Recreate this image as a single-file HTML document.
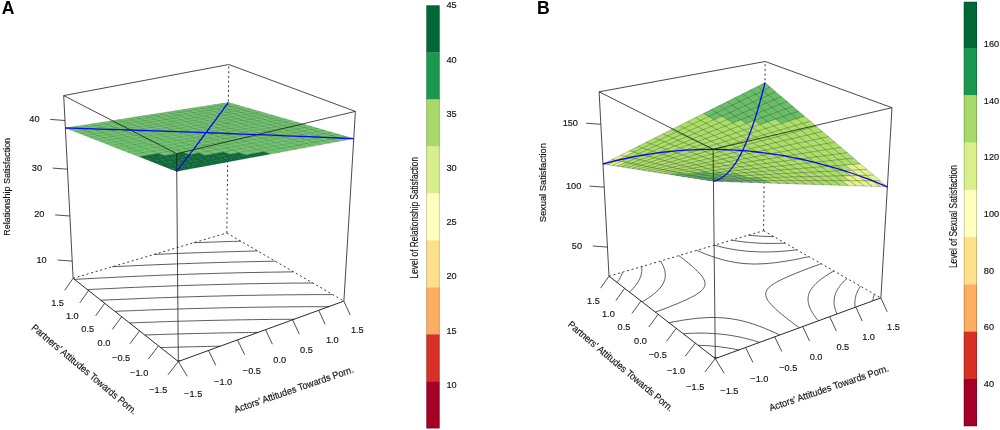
<!DOCTYPE html>
<html><head><meta charset="utf-8"><title>Response surfaces</title><style>
html,body{margin:0;padding:0;background:#fff;}
svg{display:block;font-family:"Liberation Sans", sans-serif;will-change:transform;}
.bx{stroke:#1c1c1c;stroke-width:0.8;fill:none}
.ax{stroke:#111;stroke-width:0.9;fill:none}
.dt{stroke:#3a3a3a;stroke-width:1.0;stroke-dasharray:2 2.7;fill:none}
.ct{stroke:#222;stroke-width:0.75;fill:none}
.tk{stroke:#222;stroke-width:0.8;fill:none}
.sf polygon{stroke-width:0.4;stroke-linejoin:round}
.bl{stroke:#0808f2;stroke-width:1.3;fill:none;stroke-linejoin:round}
.tl{font-size:9.8px;fill:#111;stroke:#111;stroke-width:0.15px;text-anchor:middle}
.cl{font-size:9.8px;fill:#111;stroke:#111;stroke-width:0.15px;text-anchor:start}
.at{font-size:9.8px;fill:#111;stroke:#111;stroke-width:0.15px}
.kt{font-size:10.5px;fill:#111;stroke:#111;stroke-width:0.15px}
.pl{font-size:17.6px;font-weight:bold;fill:#000}
</style></head><body>
<svg width="1000" height="430" viewBox="0 0 1000 430">
<rect width="1000" height="430" fill="#fff"/>
<text x="1.7" y="14.0" class="pl">A</text>
<text x="536.9" y="14.0" class="pl">B</text>
<line x1="63.7" y1="95.6" x2="228.8" y2="64.5" class="bx"/>
<line x1="228.8" y1="64.5" x2="355.4" y2="111.4" class="bx"/>
<line x1="73.1" y1="278.3" x2="63.7" y2="95.6" class="bx"/>
<line x1="343.9" y1="301.1" x2="355.4" y2="111.4" class="bx"/>
<line x1="226.8" y1="233.0" x2="228.8" y2="64.5" class="dt"/>
<line x1="73.1" y1="278.3" x2="226.8" y2="233.0" class="dt"/>
<line x1="226.8" y1="233.0" x2="343.9" y2="301.1" class="dt"/>
<polyline class="ct" points="240.9,241.2 239.2,241.2 237.3,241.3 234.5,241.4 232.4,241.4 230.7,241.5 228.7,241.5 225.9,241.6 223.9,241.7 222.2,241.7 220.1,241.8 217.2,241.9 215.4,242.0 213.7,242.0 211.4,242.1 208.6,242.2 206.9,242.3 205.2,242.3 202.6,242.4 200.1,242.5 198.4,242.6 196.7,242.6 193.7,242.7 193.7,242.7"/>
<polyline class="ct" points="257.7,251.0 254.9,251.0 252.5,251.1 250.7,251.1 248.9,251.2 246.4,251.3 243.7,251.3 241.9,251.4 240.2,251.4 237.8,251.5 234.9,251.6 233.2,251.6 231.4,251.7 229.1,251.7 226.2,251.8 224.5,251.9 222.7,251.9 220.3,252.0 217.5,252.1 215.8,252.1 214.0,252.2 211.5,252.3 208.8,252.3 207.1,252.4 205.3,252.5 202.6,252.6 200.1,252.6 198.4,252.7 196.6,252.8 193.6,252.9 191.4,252.9 189.7,253.0 187.6,253.1 184.6,253.2 182.8,253.3 181.1,253.3 178.5,253.4 175.9,253.5 174.1,253.6 172.4,253.7 169.4,253.8 167.2,253.9 165.5,254.0 163.2,254.1 160.3,254.2 158.6,254.3 156.9,254.3 153.9,254.5 153.9,254.5"/>
<polyline class="ct" points="275.3,261.2 273.3,261.2 270.5,261.3 268.0,261.3 266.2,261.4 264.4,261.4 261.9,261.4 259.0,261.5 257.2,261.5 255.4,261.6 253.2,261.6 250.4,261.7 248.2,261.7 246.4,261.8 244.6,261.8 241.6,261.9 239.2,262.0 237.4,262.0 235.6,262.0 232.9,262.1 230.3,262.2 228.5,262.2 226.7,262.3 224.0,262.4 221.3,262.4 219.5,262.5 217.8,262.5 215.1,262.6 212.4,262.7 210.6,262.8 208.8,262.8 206.1,262.9 203.5,263.0 201.7,263.0 199.9,263.1 197.1,263.2 194.6,263.3 192.8,263.3 191.0,263.4 188.0,263.5 185.7,263.6 183.9,263.7 181.8,263.7 178.8,263.8 176.8,263.9 175.1,264.0 172.6,264.1 169.8,264.2 168.0,264.3 166.2,264.3 163.2,264.5 160.9,264.5 159.1,264.6 157.0,264.7 153.8,264.8 152.1,264.9 150.3,265.0 147.5,265.1 145.0,265.2 143.2,265.3 141.1,265.4 138.0,265.5 136.2,265.6 134.4,265.7 131.5,265.8 129.1,266.0 127.3,266.0 125.1,266.1 122.0,266.3 120.3,266.4 118.5,266.5 115.3,266.6 113.2,266.7 112.0,266.8"/>
<polyline class="ct" points="293.6,271.8 291.7,271.9 289.6,271.9 286.7,271.9 284.2,272.0 282.4,272.0 280.5,272.0 278.1,272.1 275.2,272.1 273.1,272.1 271.2,272.2 269.4,272.2 266.5,272.2 263.8,272.3 262.0,272.3 260.1,272.4 257.8,272.4 254.9,272.5 252.7,272.5 250.9,272.5 249.0,272.6 246.1,272.6 243.5,272.7 241.7,272.7 239.8,272.8 237.2,272.8 234.3,272.9 232.5,273.0 230.6,273.0 228.3,273.1 225.3,273.1 223.3,273.2 221.5,273.2 219.3,273.3 216.2,273.4 214.2,273.4 212.3,273.5 210.2,273.6 207.1,273.7 205.0,273.7 203.2,273.8 201.0,273.8 198.0,273.9 195.9,274.0 194.1,274.1 191.8,274.1 188.7,274.2 186.8,274.3 185.0,274.4 182.5,274.5 179.5,274.6 177.7,274.6 175.9,274.7 173.2,274.8 170.4,274.9 168.6,275.0 166.8,275.0 163.7,275.2 161.3,275.2 159.5,275.3 157.4,275.4 154.2,275.5 152.3,275.6 150.5,275.7 147.8,275.8 145.0,275.9 143.2,276.0 141.4,276.1 138.2,276.2 136.0,276.3 134.2,276.4 131.7,276.5 128.8,276.6 126.9,276.7 125.1,276.8 121.9,277.0 119.7,277.1 117.9,277.1 115.3,277.3 112.5,277.4 110.7,277.5 108.7,277.6 105.3,277.8 103.5,277.9 101.6,277.9 98.7,278.1 96.2,278.2 94.4,278.3 91.9,278.4 89.0,278.6 87.2,278.7 85.2,278.8 81.8,279.0 80.0,279.1 78.2,279.2 74.9,279.4 74.6,279.4"/>
<polyline class="ct" points="312.7,283.0 310.7,283.0 308.8,283.0 306.6,283.0 303.7,283.0 301.1,283.1 299.2,283.1 297.3,283.1 295.1,283.1 292.2,283.1 289.6,283.2 287.7,283.2 285.8,283.2 283.5,283.2 280.6,283.3 278.2,283.3 276.3,283.3 274.4,283.4 271.8,283.4 268.8,283.4 266.8,283.5 264.9,283.5 263.0,283.5 260.0,283.6 257.3,283.6 255.4,283.7 253.5,283.7 251.1,283.7 248.1,283.8 245.9,283.8 244.0,283.9 242.1,283.9 239.1,284.0 236.5,284.1 234.6,284.1 232.7,284.1 230.0,284.2 227.1,284.3 225.2,284.3 223.3,284.4 220.9,284.4 217.9,284.5 215.8,284.6 213.9,284.6 211.7,284.7 208.6,284.8 206.4,284.8 204.6,284.9 202.5,284.9 199.4,285.0 197.1,285.1 195.2,285.2 193.1,285.2 190.0,285.3 187.7,285.4 185.9,285.4 183.7,285.5 180.6,285.6 178.4,285.7 176.5,285.8 174.3,285.8 171.1,286.0 169.1,286.0 167.2,286.1 164.7,286.2 161.7,286.3 159.8,286.4 157.9,286.4 155.1,286.6 152.4,286.7 150.5,286.7 148.6,286.8 145.4,286.9 143.1,287.0 141.2,287.1 138.8,287.2 135.6,287.3 133.8,287.4 131.9,287.5 129.0,287.6 126.4,287.7 124.5,287.8 122.4,287.9 119.1,288.1 117.1,288.2 115.3,288.3 112.4,288.4 109.7,288.5 107.8,288.6 105.7,288.7 102.3,288.9 100.4,289.0 98.6,289.1 95.5,289.2 93.0,289.3 91.2,289.4 88.7,289.6 87.5,289.6"/>
<polyline class="ct" points="332.6,294.6 330.2,294.6 327.4,294.6 324.7,294.6 322.7,294.6 320.7,294.6 318.7,294.6 315.8,294.6 312.9,294.6 310.8,294.6 308.9,294.7 306.9,294.7 304.2,294.7 301.2,294.7 299.0,294.7 297.0,294.7 295.1,294.8 292.4,294.8 289.5,294.8 287.2,294.8 285.3,294.8 283.3,294.9 280.6,294.9 277.6,294.9 275.5,295.0 273.5,295.0 271.6,295.0 268.7,295.0 265.7,295.1 263.8,295.1 261.8,295.1 259.7,295.2 256.7,295.2 254.1,295.3 252.1,295.3 250.2,295.3 247.6,295.4 244.5,295.4 242.4,295.5 240.5,295.5 238.4,295.6 235.4,295.6 232.8,295.7 230.8,295.7 228.9,295.8 226.1,295.8 223.1,295.9 221.2,295.9 219.3,296.0 216.8,296.1 213.7,296.1 211.6,296.2 209.7,296.2 207.5,296.3 204.4,296.4 202.0,296.4 200.1,296.5 198.1,296.6 194.9,296.6 192.4,296.7 190.5,296.8 188.6,296.8 185.4,296.9 182.8,297.0 180.9,297.1 179.0,297.1 175.8,297.2 173.3,297.3 171.3,297.4 169.4,297.5 166.1,297.6 163.7,297.7 161.8,297.7 159.6,297.8 156.4,297.9 154.2,298.0 152.3,298.1 149.8,298.2 146.6,298.3 144.7,298.4 142.7,298.4 140.0,298.6 137.0,298.7 135.1,298.8 133.2,298.8 130.0,299.0 127.5,299.1 125.6,299.2 123.3,299.2 120.0,299.4 118.0,299.5 116.1,299.6 113.2,299.7 110.4,299.8 108.5,299.9 106.4,300.0 103.0,300.2 100.9,300.3 100.9,300.3"/>
<polyline class="ct" points="328.7,306.7 325.7,306.7 322.8,306.7 320.8,306.7 318.8,306.7 316.8,306.7 313.9,306.7 311.0,306.7 308.7,306.7 306.6,306.7 304.6,306.7 302.1,306.7 299.1,306.8 296.5,306.8 294.5,306.8 292.5,306.8 290.1,306.8 287.1,306.9 284.5,306.9 282.5,306.9 280.5,306.9 278.0,306.9 275.0,307.0 272.4,307.0 270.4,307.0 268.4,307.0 265.9,307.1 262.8,307.1 260.5,307.2 258.5,307.2 256.5,307.2 253.6,307.3 250.6,307.3 248.5,307.3 246.5,307.4 244.4,307.4 241.3,307.5 238.6,307.5 236.6,307.6 234.6,307.6 231.9,307.6 228.8,307.7 226.7,307.7 224.7,307.8 222.6,307.8 219.4,307.9 216.8,308.0 214.8,308.0 212.9,308.1 209.9,308.1 206.9,308.2 205.0,308.3 203.0,308.3 200.4,308.4 197.2,308.5 195.1,308.5 193.2,308.6 190.8,308.6 187.5,308.7 185.3,308.8 183.3,308.9 181.1,308.9 177.8,309.0 175.5,309.1 173.5,309.2 171.3,309.2 168.0,309.3 165.7,309.4 163.8,309.5 161.5,309.6 158.2,309.7 155.9,309.8 154.0,309.8 151.5,309.9 148.2,310.0 146.2,310.1 144.2,310.2 141.6,310.3 138.4,310.4 136.4,310.5 134.4,310.6 131.5,310.7 128.6,310.8 126.7,310.9 124.7,310.9 121.3,311.1 118.9,311.2 116.9,311.3 115.0,311.4"/>
<polyline class="ct" points="294.2,319.2 291.6,319.3 289.6,319.3 287.5,319.3 285.0,319.3 282.0,319.3 279.3,319.3 277.2,319.4 275.2,319.4 272.7,319.4 269.6,319.4 267.0,319.5 264.9,319.5 262.9,319.5 260.3,319.5 257.2,319.6 254.7,319.6 252.6,319.7 250.6,319.7 247.8,319.7 244.7,319.8 242.4,319.8 240.4,319.8 238.3,319.9 235.2,319.9 232.3,320.0 230.2,320.0 228.2,320.1 225.7,320.1 222.5,320.2 220.1,320.2 218.1,320.3 216.0,320.3 212.8,320.4 210.0,320.4 207.9,320.5 205.9,320.5 203.2,320.6 199.9,320.7 197.8,320.7 195.8,320.8 193.4,320.9 190.2,320.9 187.8,321.0 185.7,321.1 183.6,321.1 180.3,321.2 177.7,321.3 175.7,321.3 173.7,321.4 170.4,321.5 167.6,321.6 165.6,321.7 163.6,321.7 160.4,321.8 157.6,321.9 155.6,322.0 153.6,322.1 150.4,322.2 147.6,322.3 145.6,322.3 143.6,322.4 140.2,322.5 137.6,322.6 135.6,322.7 133.4,322.8 130.0,322.9 129.6,322.9"/>
<polyline class="ct" points="258.1,332.4 254.9,332.4 252.6,332.5 250.5,332.5 248.4,332.5 245.4,332.6 242.2,332.6 240.0,332.6 237.9,332.7 235.7,332.7 232.5,332.8 229.6,332.8 227.5,332.8 225.4,332.9 222.8,332.9 219.5,333.0 217.1,333.0 215.0,333.1 213.0,333.1 209.7,333.2 206.7,333.3 204.7,333.3 202.6,333.4 199.9,333.4 196.6,333.5 194.3,333.5 192.2,333.6 190.0,333.7 186.6,333.7 184.0,333.8 181.9,333.9 179.8,333.9 176.6,334.0 173.6,334.1 171.6,334.2 169.5,334.2 166.5,334.3 163.3,334.4 161.3,334.5 159.2,334.5 156.4,334.6 153.0,334.7 151.0,334.8 148.9,334.9 146.1,334.9 144.8,335.0"/>
<polyline class="ct" points="220.2,346.2 218.1,346.2 215.9,346.3 213.6,346.3 210.3,346.4 207.4,346.4 205.3,346.5 203.1,346.5 200.3,346.6 196.9,346.7 194.6,346.7 192.5,346.8 190.2,346.8 186.8,346.9 184.0,347.0 181.9,347.0 179.8,347.1 176.6,347.2 173.4,347.2 171.3,347.3 169.2,347.4 166.4,347.4 162.9,347.5 160.8,347.6 160.8,347.6"/>
<polyline class="ct" points="180.5,360.7 177.4,360.8 177.4,360.8"/>
<g class="sf" stroke="rgba(0,0,0,0.34)">
<polygon points="226.4,105.1 233.8,104.0 228.4,102.4 221.0,103.6" fill="#6ec76c"/>
<polygon points="218.9,106.3 226.4,105.1 221.0,103.6 213.5,104.7" fill="#6ec76c"/>
<polygon points="231.8,106.7 239.3,105.6 233.8,104.0 226.4,105.1" fill="#6ec76c"/>
<polygon points="211.3,107.5 218.9,106.3 213.5,104.7 205.9,105.9" fill="#6ec76c"/>
<polygon points="237.4,108.4 244.9,107.2 239.3,105.6 231.8,106.7" fill="#6ec76c"/>
<polygon points="224.3,107.9 231.8,106.7 226.4,105.1 218.9,106.3" fill="#6ec76c"/>
<polygon points="203.6,108.7 211.3,107.5 205.9,105.9 198.3,107.1" fill="#6ec76c"/>
<polygon points="243.0,110.0 250.5,108.8 244.9,107.2 237.4,108.4" fill="#6ec76c"/>
<polygon points="216.7,109.2 224.3,107.9 218.9,106.3 211.3,107.5" fill="#6ec76c"/>
<polygon points="229.8,109.6 237.4,108.4 231.8,106.7 224.3,107.9" fill="#6ec76c"/>
<polygon points="195.9,110.0 203.6,108.7 198.3,107.1 190.6,108.3" fill="#6ec76c"/>
<polygon points="248.8,111.7 256.3,110.5 250.5,108.8 243.0,110.0" fill="#6ec76c"/>
<polygon points="209.0,110.4 216.7,109.2 211.3,107.5 203.6,108.7" fill="#6ec76c"/>
<polygon points="222.2,110.8 229.8,109.6 224.3,107.9 216.7,109.2" fill="#6ec76c"/>
<polygon points="235.5,111.2 243.0,110.0 237.4,108.4 229.8,109.6" fill="#6ec76c"/>
<polygon points="188.1,111.2 195.9,110.0 190.6,108.3 182.9,109.5" fill="#6ec76c"/>
<polygon points="254.6,113.4 262.1,112.1 256.3,110.5 248.8,111.7" fill="#6ec76c"/>
<polygon points="201.3,111.6 209.0,110.4 203.6,108.7 195.9,110.0" fill="#6ec76c"/>
<polygon points="214.5,112.0 222.2,110.8 216.7,109.2 209.0,110.4" fill="#6ec76c"/>
<polygon points="227.8,112.5 235.5,111.2 229.8,109.6 222.2,110.8" fill="#6ec76c"/>
<polygon points="241.2,112.9 248.8,111.7 243.0,110.0 235.5,111.2" fill="#6ec76c"/>
<polygon points="180.2,112.4 188.1,111.2 182.9,109.5 175.0,110.8" fill="#6ec76c"/>
<polygon points="260.5,115.1 268.0,113.9 262.1,112.1 254.6,113.4" fill="#6ec76c"/>
<polygon points="193.5,112.9 201.3,111.6 195.9,110.0 188.1,111.2" fill="#6ec76c"/>
<polygon points="206.7,113.3 214.5,112.0 209.0,110.4 201.3,111.6" fill="#6ec76c"/>
<polygon points="220.1,113.7 227.8,112.5 222.2,110.8 214.5,112.0" fill="#6ec76c"/>
<polygon points="233.5,114.2 241.2,112.9 235.5,111.2 227.8,112.5" fill="#6ec76c"/>
<polygon points="246.9,114.6 254.6,113.4 248.8,111.7 241.2,112.9" fill="#6ec76c"/>
<polygon points="172.3,113.7 180.2,112.4 175.0,110.8 167.1,112.0" fill="#6ec76c"/>
<polygon points="198.9,114.5 206.7,113.3 201.3,111.6 193.5,112.9" fill="#6ec76c"/>
<polygon points="212.3,115.0 220.1,113.7 214.5,112.0 206.7,113.3" fill="#6ec76c"/>
<polygon points="225.7,115.4 233.5,114.2 227.8,112.5 220.1,113.7" fill="#6ec76c"/>
<polygon points="239.2,115.9 246.9,114.6 241.2,112.9 233.5,114.2" fill="#6ec76c"/>
<polygon points="266.4,116.9 274.1,115.6 268.0,113.9 260.5,115.1" fill="#6ec76c"/>
<polygon points="185.5,114.1 193.5,112.9 188.1,111.2 180.2,112.4" fill="#6ec76c"/>
<polygon points="252.8,116.4 260.5,115.1 254.6,113.4 246.9,114.6" fill="#6ec76c"/>
<polygon points="164.2,115.0 172.3,113.7 167.1,112.0 159.1,113.3" fill="#6ec76c"/>
<polygon points="204.4,116.3 212.3,115.0 206.7,113.3 198.9,114.5" fill="#6ec76c"/>
<polygon points="217.9,116.7 225.7,115.4 220.1,113.7 212.3,115.0" fill="#6ec76c"/>
<polygon points="231.4,117.2 239.2,115.9 233.5,114.2 225.7,115.4" fill="#6ec76c"/>
<polygon points="272.5,118.6 280.2,117.4 274.1,115.6 266.4,116.9" fill="#6ec76c"/>
<polygon points="190.9,115.8 198.9,114.5 193.5,112.9 185.5,114.1" fill="#6ec76c"/>
<polygon points="245.1,117.6 252.8,116.4 246.9,114.6 239.2,115.9" fill="#6ec76c"/>
<polygon points="177.6,115.4 185.5,114.1 180.2,112.4 172.3,113.7" fill="#6ec76c"/>
<polygon points="258.8,118.1 266.4,116.9 260.5,115.1 252.8,116.4" fill="#6ec76c"/>
<polygon points="156.1,116.2 164.2,115.0 159.1,113.3 151.0,114.6" fill="#6ec76c"/>
<polygon points="210.0,118.0 217.9,116.7 212.3,115.0 204.4,116.3" fill="#6ec76c"/>
<polygon points="223.6,118.5 231.4,117.2 225.7,115.4 217.9,116.7" fill="#6ec76c"/>
<polygon points="278.7,120.4 286.3,119.1 280.2,117.4 272.5,118.6" fill="#6ec76c"/>
<polygon points="196.4,117.5 204.4,116.3 198.9,114.5 190.9,115.8" fill="#6ec76c"/>
<polygon points="237.3,118.9 245.1,117.6 239.2,115.9 231.4,117.2" fill="#6ec76c"/>
<polygon points="169.5,116.7 177.6,115.4 172.3,113.7 164.2,115.0" fill="#6ec76c"/>
<polygon points="182.9,117.1 190.9,115.8 185.5,114.1 177.6,115.4" fill="#6ec76c"/>
<polygon points="251.0,119.4 258.8,118.1 252.8,116.4 245.1,117.6" fill="#6ec76c"/>
<polygon points="264.8,119.9 272.5,118.6 266.4,116.9 258.8,118.1" fill="#6ec76c"/>
<polygon points="215.6,119.8 223.6,118.5 217.9,116.7 210.0,118.0" fill="#6ec76c"/>
<polygon points="147.9,117.5 156.1,116.2 151.0,114.6 142.8,115.8" fill="#6ec76c"/>
<polygon points="202.0,119.3 210.0,118.0 204.4,116.3 196.4,117.5" fill="#6ec76c"/>
<polygon points="229.4,120.2 237.3,118.9 231.4,117.2 223.6,118.5" fill="#6ec76c"/>
<polygon points="284.9,122.3 292.6,120.9 286.3,119.1 278.7,120.4" fill="#6ec76c"/>
<polygon points="161.3,118.0 169.5,116.7 164.2,115.0 156.1,116.2" fill="#6ec76c"/>
<polygon points="174.8,118.4 182.9,117.1 177.6,115.4 169.5,116.7" fill="#6ec76c"/>
<polygon points="188.4,118.8 196.4,117.5 190.9,115.8 182.9,117.1" fill="#6ec76c"/>
<polygon points="243.2,120.7 251.0,119.4 245.1,117.6 237.3,118.9" fill="#6ec76c"/>
<polygon points="257.0,121.2 264.8,119.9 258.8,118.1 251.0,119.4" fill="#6ec76c"/>
<polygon points="270.9,121.7 278.7,120.4 272.5,118.6 264.8,119.9" fill="#6ec76c"/>
<polygon points="139.6,118.9 147.9,117.5 142.8,115.8 134.6,117.1" fill="#6ec76c"/>
<polygon points="207.6,121.1 215.6,119.8 210.0,118.0 202.0,119.3" fill="#6ec76c"/>
<polygon points="221.4,121.6 229.4,120.2 223.6,118.5 215.6,119.8" fill="#6ec76c"/>
<polygon points="291.3,124.1 299.0,122.8 292.6,120.9 284.9,122.3" fill="#6ec76c"/>
<polygon points="166.6,119.7 174.8,118.4 169.5,116.7 161.3,118.0" fill="#6ec76c"/>
<polygon points="180.2,120.2 188.4,118.8 182.9,117.1 174.8,118.4" fill="#6ec76c"/>
<polygon points="193.9,120.6 202.0,119.3 196.4,117.5 188.4,118.8" fill="#6ec76c"/>
<polygon points="235.2,122.0 243.2,120.7 237.3,118.9 229.4,120.2" fill="#6ec76c"/>
<polygon points="249.1,122.5 257.0,121.2 251.0,119.4 243.2,120.7" fill="#6ec76c"/>
<polygon points="263.1,123.1 270.9,121.7 264.8,119.9 257.0,121.2" fill="#6ec76c"/>
<polygon points="153.1,119.3 161.3,118.0 156.1,116.2 147.9,117.5" fill="#6ec76c"/>
<polygon points="277.2,123.6 284.9,122.3 278.7,120.4 270.9,121.7" fill="#6ec76c"/>
<polygon points="131.2,120.2 139.6,118.9 134.6,117.1 126.2,118.4" fill="#6ec76c"/>
<polygon points="297.7,126.0 305.5,124.7 299.0,122.8 291.3,124.1" fill="#6ec76c"/>
<polygon points="172.0,121.5 180.2,120.2 174.8,118.4 166.6,119.7" fill="#6ec76c"/>
<polygon points="185.7,121.9 193.9,120.6 188.4,118.8 180.2,120.2" fill="#6ec76c"/>
<polygon points="199.5,122.4 207.6,121.1 202.0,119.3 193.9,120.6" fill="#6ec76c"/>
<polygon points="213.3,122.9 221.4,121.6 215.6,119.8 207.6,121.1" fill="#6ec76c"/>
<polygon points="227.2,123.4 235.2,122.0 229.4,120.2 221.4,121.6" fill="#6ec76c"/>
<polygon points="241.2,123.9 249.1,122.5 243.2,120.7 235.2,122.0" fill="#6ec76c"/>
<polygon points="255.2,124.4 263.1,123.1 257.0,121.2 249.1,122.5" fill="#6ec76c"/>
<polygon points="144.8,120.6 153.1,119.3 147.9,117.5 139.6,118.9" fill="#6ec76c"/>
<polygon points="158.3,121.0 166.6,119.7 161.3,118.0 153.1,119.3" fill="#6ec76c"/>
<polygon points="269.3,124.9 277.2,123.6 270.9,121.7 263.1,123.1" fill="#6ec76c"/>
<polygon points="283.5,125.5 291.3,124.1 284.9,122.3 277.2,123.6" fill="#6ec76c"/>
<polygon points="122.8,121.5 131.2,120.2 126.2,118.4 117.8,119.8" fill="#6ec76c"/>
<polygon points="177.4,123.3 185.7,121.9 180.2,120.2 172.0,121.5" fill="#6ec76c"/>
<polygon points="191.3,123.8 199.5,122.4 193.9,120.6 185.7,121.9" fill="#6ec76c"/>
<polygon points="233.2,125.2 241.2,123.9 235.2,122.0 227.2,123.4" fill="#6ec76c"/>
<polygon points="247.2,125.7 255.2,124.4 249.1,122.5 241.2,123.9" fill="#6ec76c"/>
<polygon points="304.3,127.9 312.1,126.6 305.5,124.7 297.7,126.0" fill="#6ec76c"/>
<polygon points="136.4,121.9 144.8,120.6 139.6,118.9 131.2,120.2" fill="#6ec76c"/>
<polygon points="150.0,122.4 158.3,121.0 153.1,119.3 144.8,120.6" fill="#6ec76c"/>
<polygon points="163.7,122.8 172.0,121.5 166.6,119.7 158.3,121.0" fill="#6ec76c"/>
<polygon points="205.2,124.2 213.3,122.9 207.6,121.1 199.5,122.4" fill="#6ec76c"/>
<polygon points="219.1,124.7 227.2,123.4 221.4,121.6 213.3,122.9" fill="#6ec76c"/>
<polygon points="261.4,126.3 269.3,124.9 263.1,123.1 255.2,124.4" fill="#6ec76c"/>
<polygon points="275.6,126.8 283.5,125.5 277.2,123.6 269.3,124.9" fill="#6ec76c"/>
<polygon points="289.9,127.4 297.7,126.0 291.3,124.1 283.5,125.5" fill="#6ec76c"/>
<polygon points="114.2,122.9 122.8,121.5 117.8,119.8 109.3,121.1" fill="#6ec76c"/>
<polygon points="183.0,125.1 191.3,123.8 185.7,121.9 177.4,123.3" fill="#6ec76c"/>
<polygon points="239.2,127.1 247.2,125.7 241.2,123.9 233.2,125.2" fill="#6ec76c"/>
<polygon points="311.0,129.9 318.7,128.5 312.1,126.6 304.3,127.9" fill="#6ec76c"/>
<polygon points="141.5,123.7 150.0,122.4 144.8,120.6 136.4,121.9" fill="#6ec76c"/>
<polygon points="155.3,124.2 163.7,122.8 158.3,121.0 150.0,122.4" fill="#6ec76c"/>
<polygon points="169.1,124.6 177.4,123.3 172.0,121.5 163.7,122.8" fill="#6ec76c"/>
<polygon points="196.9,125.6 205.2,124.2 199.5,122.4 191.3,123.8" fill="#6ec76c"/>
<polygon points="225.0,126.6 233.2,125.2 227.2,123.4 219.1,124.7" fill="#6ec76c"/>
<polygon points="253.4,127.6 261.4,126.3 255.2,124.4 247.2,125.7" fill="#6ec76c"/>
<polygon points="267.7,128.2 275.6,126.8 269.3,124.9 261.4,126.3" fill="#6ec76c"/>
<polygon points="282.0,128.7 289.9,127.4 283.5,125.5 275.6,126.8" fill="#6ec76c"/>
<polygon points="127.9,123.3 136.4,121.9 131.2,120.2 122.8,121.5" fill="#6ec76c"/>
<polygon points="210.9,126.1 219.1,124.7 213.3,122.9 205.2,124.2" fill="#6ec76c"/>
<polygon points="296.5,129.3 304.3,127.9 297.7,126.0 289.9,127.4" fill="#6ec76c"/>
<polygon points="105.6,124.2 114.2,122.9 109.3,121.1 100.7,122.5" fill="#6ec76c"/>
<polygon points="317.7,131.8 325.5,130.4 318.7,128.5 311.0,129.9" fill="#6ec76c"/>
<polygon points="146.8,125.6 155.3,124.2 150.0,122.4 141.5,123.7" fill="#6ec76c"/>
<polygon points="160.7,126.0 169.1,124.6 163.7,122.8 155.3,124.2" fill="#6ec76c"/>
<polygon points="174.6,126.5 183.0,125.1 177.4,123.3 169.1,124.6" fill="#6ec76c"/>
<polygon points="188.6,127.0 196.9,125.6 191.3,123.8 183.0,125.1" fill="#6ec76c"/>
<polygon points="231.0,128.5 239.2,127.1 233.2,125.2 225.0,126.6" fill="#6ec76c"/>
<polygon points="245.3,129.0 253.4,127.6 247.2,125.7 239.2,127.1" fill="#6ec76c"/>
<polygon points="259.6,129.6 267.7,128.2 261.4,126.3 253.4,127.6" fill="#6ec76c"/>
<polygon points="274.1,130.1 282.0,128.7 275.6,126.8 267.7,128.2" fill="#6ec76c"/>
<polygon points="119.3,124.7 127.9,123.3 122.8,121.5 114.2,122.9" fill="#6ec76c"/>
<polygon points="133.0,125.1 141.5,123.7 136.4,121.9 127.9,123.3" fill="#6ec76c"/>
<polygon points="202.7,127.5 210.9,126.1 205.2,124.2 196.9,125.6" fill="#6ec76c"/>
<polygon points="216.8,128.0 225.0,126.6 219.1,124.7 210.9,126.1" fill="#6ec76c"/>
<polygon points="288.5,130.7 296.5,129.3 289.9,127.4 282.0,128.7" fill="#6ec76c"/>
<polygon points="303.1,131.2 311.0,129.9 304.3,127.9 296.5,129.3" fill="#6ec76c"/>
<polygon points="96.9,125.6 105.6,124.2 100.7,122.5 92.0,123.8" fill="#6ec76c"/>
<polygon points="152.1,127.4 160.7,126.0 155.3,124.2 146.8,125.6" fill="#6ec76c"/>
<polygon points="166.1,127.9 174.6,126.5 169.1,124.6 160.7,126.0" fill="#6ec76c"/>
<polygon points="251.5,131.0 259.6,129.6 253.4,127.6 245.3,129.0" fill="#6ec76c"/>
<polygon points="266.0,131.5 274.1,130.1 267.7,128.2 259.6,129.6" fill="#6ec76c"/>
<polygon points="324.6,133.8 332.4,132.4 325.5,130.4 317.7,131.8" fill="#6ec76c"/>
<polygon points="124.4,126.5 133.0,125.1 127.9,123.3 119.3,124.7" fill="#6ec76c"/>
<polygon points="138.2,126.9 146.8,125.6 141.5,123.7 133.0,125.1" fill="#6ec76c"/>
<polygon points="180.2,128.4 188.6,127.0 183.0,125.1 174.6,126.5" fill="#6ec76c"/>
<polygon points="194.3,128.9 202.7,127.5 196.9,125.6 188.6,127.0" fill="#6ec76c"/>
<polygon points="208.5,129.4 216.8,128.0 210.9,126.1 202.7,127.5" fill="#6ec76c"/>
<polygon points="222.8,129.9 231.0,128.5 225.0,126.6 216.8,128.0" fill="#6ec76c"/>
<polygon points="237.1,130.4 245.3,129.0 239.2,127.1 231.0,128.5" fill="#6ec76c"/>
<polygon points="280.5,132.1 288.5,130.7 282.0,128.7 274.1,130.1" fill="#6ec76c"/>
<polygon points="295.1,132.7 303.1,131.2 296.5,129.3 288.5,130.7" fill="#6ec76c"/>
<polygon points="110.6,126.0 119.3,124.7 114.2,122.9 105.6,124.2" fill="#6ec76c"/>
<polygon points="309.8,133.2 317.7,131.8 311.0,129.9 303.1,131.2" fill="#6ec76c"/>
<polygon points="88.0,127.0 96.9,125.6 92.0,123.8 83.2,125.2" fill="#6ec76c"/>
<polygon points="157.6,129.3 166.1,127.9 160.7,126.0 152.1,127.4" fill="#6ec76c"/>
<polygon points="257.8,132.9 266.0,131.5 259.6,129.6 251.5,131.0" fill="#6ec76c"/>
<polygon points="331.6,135.9 339.4,134.5 332.4,132.4 324.6,133.8" fill="#6ec76c"/>
<polygon points="129.5,128.3 138.2,126.9 133.0,125.1 124.4,126.5" fill="#6ec76c"/>
<polygon points="143.5,128.8 152.1,127.4 146.8,125.6 138.2,126.9" fill="#6ec76c"/>
<polygon points="171.7,129.8 180.2,128.4 174.6,126.5 166.1,127.9" fill="#6ec76c"/>
<polygon points="200.1,130.8 208.5,129.4 202.7,127.5 194.3,128.9" fill="#6ec76c"/>
<polygon points="214.4,131.3 222.8,129.9 216.8,128.0 208.5,129.4" fill="#6ec76c"/>
<polygon points="243.3,132.4 251.5,131.0 245.3,129.0 237.1,130.4" fill="#6ec76c"/>
<polygon points="272.4,133.5 280.5,132.1 274.1,130.1 266.0,131.5" fill="#6ec76c"/>
<polygon points="287.1,134.1 295.1,132.7 288.5,130.7 280.5,132.1" fill="#6ec76c"/>
<polygon points="115.6,127.9 124.4,126.5 119.3,124.7 110.6,126.0" fill="#6ec76c"/>
<polygon points="301.9,134.7 309.8,133.2 303.1,131.2 295.1,132.7" fill="#6ec76c"/>
<polygon points="101.8,127.4 110.6,126.0 105.6,124.2 96.9,125.6" fill="#6ec76c"/>
<polygon points="185.9,130.3 194.3,128.9 188.6,127.0 180.2,128.4" fill="#6ec76c"/>
<polygon points="228.8,131.8 237.1,130.4 231.0,128.5 222.8,129.9" fill="#6ec76c"/>
<polygon points="316.7,135.3 324.6,133.8 317.7,131.8 309.8,133.2" fill="#6ec76c"/>
<polygon points="79.1,128.4 88.0,127.0 83.2,125.2 74.3,126.6" fill="#6ec76c"/>
<polygon points="134.8,130.2 143.5,128.8 138.2,126.9 129.5,128.3" fill="#6ec76c"/>
<polygon points="148.9,130.7 157.6,129.3 152.1,127.4 143.5,128.8" fill="#6ec76c"/>
<polygon points="163.1,131.2 171.7,129.8 166.1,127.9 157.6,129.3" fill="#6ec76c"/>
<polygon points="206.0,132.7 214.4,131.3 208.5,129.4 200.1,130.8" fill="#6ec76c"/>
<polygon points="249.6,134.4 257.8,132.9 251.5,131.0 243.3,132.4" fill="#6ec76c"/>
<polygon points="264.2,134.9 272.4,133.5 266.0,131.5 257.8,132.9" fill="#6ec76c"/>
<polygon points="279.0,135.5 287.1,134.1 280.5,132.1 272.4,133.5" fill="#6ec76c"/>
<polygon points="338.7,138.0 346.5,136.5 339.4,134.5 331.6,135.9" fill="#6ec76c"/>
<polygon points="120.8,129.7 129.5,128.3 124.4,126.5 115.6,127.9" fill="#6ec76c"/>
<polygon points="293.8,136.1 301.9,134.7 295.1,132.7 287.1,134.1" fill="#6ec76c"/>
<polygon points="92.9,128.9 101.8,127.4 96.9,125.6 88.0,127.0" fill="#6ec76c"/>
<polygon points="106.8,129.3 115.6,127.9 110.6,126.0 101.8,127.4" fill="#6ec76c"/>
<polygon points="177.3,131.7 185.9,130.3 180.2,128.4 171.7,129.8" fill="#6ec76c"/>
<polygon points="191.6,132.2 200.1,130.8 194.3,128.9 185.9,130.3" fill="#6ec76c"/>
<polygon points="220.5,133.2 228.8,131.8 222.8,129.9 214.4,131.3" fill="#6ec76c"/>
<polygon points="235.0,133.8 243.3,132.4 237.1,130.4 228.8,131.8" fill="#6ec76c"/>
<polygon points="308.7,136.7 316.7,135.3 309.8,133.2 301.9,134.7" fill="#6ec76c"/>
<polygon points="323.6,137.3 331.6,135.9 324.6,133.8 316.7,135.3" fill="#6ec76c"/>
<polygon points="70.1,129.8 79.1,128.4 74.3,126.6 65.4,128.0" fill="#6ec76c"/>
<polygon points="140.2,132.1 148.9,130.7 143.5,128.8 134.8,130.2" fill="#6ec76c"/>
<polygon points="270.8,137.0 279.0,135.5 272.4,133.5 264.2,134.9" fill="#6ec76c"/>
<polygon points="345.9,140.1 353.8,138.6 346.5,136.5 338.7,138.0" fill="#6ec76c"/>
<polygon points="126.0,131.6 134.8,130.2 129.5,128.3 120.8,129.7" fill="#6ec76c"/>
<polygon points="285.6,137.6 293.8,136.1 287.1,134.1 279.0,135.5" fill="#6ec76c"/>
<polygon points="97.9,130.7 106.8,129.3 101.8,127.4 92.9,128.9" fill="#6ec76c"/>
<polygon points="111.9,131.2 120.8,129.7 115.6,127.9 106.8,129.3" fill="#6ec76c"/>
<polygon points="154.4,132.6 163.1,131.2 157.6,129.3 148.9,130.7" fill="#6ec76c"/>
<polygon points="168.7,133.1 177.3,131.7 171.7,129.8 163.1,131.2" fill="#6ec76c"/>
<polygon points="183.0,133.6 191.6,132.2 185.9,130.3 177.3,131.7" fill="#6ec76c"/>
<polygon points="197.5,134.2 206.0,132.7 200.1,130.8 191.6,132.2" fill="#6ec76c"/>
<polygon points="212.0,134.7 220.5,133.2 214.4,131.3 206.0,132.7" fill="#6ec76c"/>
<polygon points="226.6,135.2 235.0,133.8 228.8,131.8 220.5,133.2" fill="#6ec76c"/>
<polygon points="241.2,135.8 249.6,134.4 243.3,132.4 235.0,133.8" fill="#6ec76c"/>
<polygon points="256.0,136.4 264.2,134.9 257.8,132.9 249.6,134.4" fill="#6ec76c"/>
<polygon points="300.6,138.2 308.7,136.7 301.9,134.7 293.8,136.1" fill="#6ec76c"/>
<polygon points="315.6,138.8 323.6,137.3 316.7,135.3 308.7,136.7" fill="#6ec76c"/>
<polygon points="84.0,130.3 92.9,128.9 88.0,127.0 79.1,128.4" fill="#6ec76c"/>
<polygon points="330.7,139.4 338.7,138.0 331.6,135.9 323.6,137.3" fill="#6ec76c"/>
<polygon points="131.3,133.6 140.2,132.1 134.8,130.2 126.0,131.6" fill="#6ec76c"/>
<polygon points="277.4,139.0 285.6,137.6 279.0,135.5 270.8,137.0" fill="#6ec76c"/>
<polygon points="103.0,132.6 111.9,131.2 106.8,129.3 97.9,130.7" fill="#6ec76c"/>
<polygon points="117.1,133.1 126.0,131.6 120.8,129.7 111.9,131.2" fill="#6ec76c"/>
<polygon points="145.6,134.1 154.4,132.6 148.9,130.7 140.2,132.1" fill="#6ec76c"/>
<polygon points="174.4,135.1 183.0,133.6 177.3,131.7 168.7,133.1" fill="#6ec76c"/>
<polygon points="188.9,135.6 197.5,134.2 191.6,132.2 183.0,133.6" fill="#6ec76c"/>
<polygon points="218.1,136.7 226.6,135.2 220.5,133.2 212.0,134.7" fill="#6ec76c"/>
<polygon points="232.8,137.3 241.2,135.8 235.0,133.8 226.6,135.2" fill="#6ec76c"/>
<polygon points="262.4,138.4 270.8,137.0 264.2,134.9 256.0,136.4" fill="#6ec76c"/>
<polygon points="292.4,139.6 300.6,138.2 293.8,136.1 285.6,137.6" fill="#6ec76c"/>
<polygon points="307.5,140.3 315.6,138.8 308.7,136.7 300.6,138.2" fill="#6ec76c"/>
<polygon points="74.9,131.7 84.0,130.3 79.1,128.4 70.1,129.8" fill="#6ec76c"/>
<polygon points="88.9,132.2 97.9,130.7 92.9,128.9 84.0,130.3" fill="#6ec76c"/>
<polygon points="159.9,134.6 168.7,133.1 163.1,131.2 154.4,132.6" fill="#6ec76c"/>
<polygon points="203.4,136.1 212.0,134.7 206.0,132.7 197.5,134.2" fill="#6ec76c"/>
<polygon points="247.6,137.8 256.0,136.4 249.6,134.4 241.2,135.8" fill="#6ec76c"/>
<polygon points="322.7,140.9 330.7,139.4 323.6,137.3 315.6,138.8" fill="#6ec76c"/>
<polygon points="337.9,141.5 345.9,140.1 338.7,138.0 330.7,139.4" fill="#6ec76c"/>
<polygon points="108.1,134.6 117.1,133.1 111.9,131.2 103.0,132.6" fill="#6ec76c"/>
<polygon points="122.4,135.0 131.3,133.6 126.0,131.6 117.1,133.1" fill="#6ec76c"/>
<polygon points="180.2,137.1 188.9,135.6 183.0,133.6 174.4,135.1" fill="#6ec76c"/>
<polygon points="224.3,138.7 232.8,137.3 226.6,135.2 218.1,136.7" fill="#6ec76c"/>
<polygon points="284.1,141.1 292.4,139.6 285.6,137.6 277.4,139.0" fill="#6ec76c"/>
<polygon points="299.3,141.7 307.5,140.3 300.6,138.2 292.4,139.6" fill="#6ec76c"/>
<polygon points="136.7,135.5 145.6,134.1 140.2,132.1 131.3,133.6" fill="#6ec76c"/>
<polygon points="269.0,140.5 277.4,139.0 270.8,137.0 262.4,138.4" fill="#6ec76c"/>
<polygon points="79.8,133.6 88.9,132.2 84.0,130.3 74.9,131.7" fill="#6ec76c"/>
<polygon points="93.9,134.1 103.0,132.6 97.9,130.7 88.9,132.2" fill="#6ec76c"/>
<polygon points="151.1,136.0 159.9,134.6 154.4,132.6 145.6,134.1" fill="#6ec76c"/>
<polygon points="165.6,136.6 174.4,135.1 168.7,133.1 159.9,134.6" fill="#6ec76c"/>
<polygon points="194.8,137.6 203.4,136.1 197.5,134.2 188.9,135.6" fill="#6ec76c"/>
<polygon points="209.5,138.2 218.1,136.7 212.0,134.7 203.4,136.1" fill="#6ec76c"/>
<polygon points="239.1,139.3 247.6,137.8 241.2,135.8 232.8,137.3" fill="#6ec76c"/>
<polygon points="254.0,139.9 262.4,138.4 256.0,136.4 247.6,137.8" fill="#6ec76c"/>
<polygon points="314.5,142.4 322.7,140.9 315.6,138.8 307.5,140.3" fill="#6ec76c"/>
<polygon points="329.8,143.0 337.9,141.5 330.7,139.4 322.7,140.9" fill="#6ec76c"/>
<polygon points="113.3,136.5 122.4,135.0 117.1,133.1 108.1,134.6" fill="#6ec76c"/>
<polygon points="291.0,143.3 299.3,141.7 292.4,139.6 284.1,141.1" fill="#6ec76c"/>
<polygon points="84.8,135.6 93.9,134.1 88.9,132.2 79.8,133.6" fill="#6ec76c"/>
<polygon points="99.0,136.0 108.1,134.6 103.0,132.6 93.9,134.1" fill="#6ec76c"/>
<polygon points="127.7,137.0 136.7,135.5 131.3,133.6 122.4,135.0" fill="#6ec76c"/>
<polygon points="156.7,138.0 165.6,136.6 159.9,134.6 151.1,136.0" fill="#6ec76c"/>
<polygon points="171.3,138.6 180.2,137.1 174.4,135.1 165.6,136.6" fill="#6ec76c"/>
<polygon points="186.0,139.1 194.8,137.6 188.9,135.6 180.2,137.1" fill="#6ec76c"/>
<polygon points="200.8,139.7 209.5,138.2 203.4,136.1 194.8,137.6" fill="#6ec76c"/>
<polygon points="215.6,140.2 224.3,138.7 218.1,136.7 209.5,138.2" fill="#6ec76c"/>
<polygon points="230.5,140.8 239.1,139.3 232.8,137.3 224.3,138.7" fill="#6ec76c"/>
<polygon points="245.5,141.4 254.0,139.9 247.6,137.8 239.1,139.3" fill="#6ec76c"/>
<polygon points="275.7,142.6 284.1,141.1 277.4,139.0 269.0,140.5" fill="#6ec76c"/>
<polygon points="306.3,143.9 314.5,142.4 307.5,140.3 299.3,141.7" fill="#6ec76c"/>
<polygon points="321.6,144.6 329.8,143.0 322.7,140.9 314.5,142.4" fill="#6ec76c"/>
<polygon points="142.2,137.5 151.1,136.0 145.6,134.1 136.7,135.5" fill="#6ec76c"/>
<polygon points="260.6,142.0 269.0,140.5 262.4,138.4 254.0,139.9" fill="#6ec76c"/>
<polygon points="89.8,137.5 99.0,136.0 93.9,134.1 84.8,135.6" fill="#6ec76c"/>
<polygon points="104.2,138.0 113.3,136.5 108.1,134.6 99.0,136.0" fill="#6ec76c"/>
<polygon points="118.6,138.5 127.7,137.0 122.4,135.0 113.3,136.5" fill="#6ec76c"/>
<polygon points="162.4,140.1 171.3,138.6 165.6,136.6 156.7,138.0" fill="#6ec76c"/>
<polygon points="192.0,141.2 200.8,139.7 194.8,137.6 186.0,139.1" fill="#6ec76c"/>
<polygon points="206.9,141.7 215.6,140.2 209.5,138.2 200.8,139.7" fill="#6ec76c"/>
<polygon points="236.9,142.9 245.5,141.4 239.1,139.3 230.5,140.8" fill="#6ec76c"/>
<polygon points="282.6,144.8 291.0,143.3 284.1,141.1 275.7,142.6" fill="#6ec76c"/>
<polygon points="297.9,145.4 306.3,143.9 299.3,141.7 291.0,143.3" fill="#6ec76c"/>
<polygon points="313.4,146.1 321.6,144.6 314.5,142.4 306.3,143.9" fill="#6ec76c"/>
<polygon points="147.8,139.5 156.7,138.0 151.1,136.0 142.2,137.5" fill="#6ec76c"/>
<polygon points="252.1,143.5 260.6,142.0 254.0,139.9 245.5,141.4" fill="#6ec76c"/>
<polygon points="133.2,139.0 142.2,137.5 136.7,135.5 127.7,137.0" fill="#6ec76c"/>
<polygon points="177.2,140.6 186.0,139.1 180.2,137.1 171.3,138.6" fill="#6ec76c"/>
<polygon points="221.9,142.3 230.5,140.8 224.3,138.7 215.6,140.2" fill="#6ec76c"/>
<polygon points="267.3,144.1 275.7,142.6 269.0,140.5 260.6,142.0" fill="#6ec76c"/>
<polygon points="94.9,139.5 104.2,138.0 99.0,136.0 89.8,137.5" fill="#6ec76c"/>
<polygon points="198.1,143.3 206.9,141.7 200.8,139.7 192.0,141.2" fill="#6ec76c"/>
<polygon points="305.0,147.6 313.4,146.1 306.3,143.9 297.9,145.4" fill="#6ec76c"/>
<polygon points="153.4,141.6 162.4,140.1 156.7,138.0 147.8,139.5" fill="#6ec76c"/>
<polygon points="243.4,145.1 252.1,143.5 245.5,141.4 236.9,142.9" fill="#6ec76c"/>
<polygon points="109.4,140.0 118.6,138.5 113.3,136.5 104.2,138.0" fill="#6ec76c"/>
<polygon points="124.0,140.5 133.2,139.0 127.7,137.0 118.6,138.5" fill="#6ec76c"/>
<polygon points="138.7,141.1 147.8,139.5 142.2,137.5 133.2,139.0" fill="#6ec76c"/>
<polygon points="168.2,142.1 177.2,140.6 171.3,138.6 162.4,140.1" fill="#6ec76c"/>
<polygon points="183.1,142.7 192.0,141.2 186.0,139.1 177.2,140.6" fill="#6ec76c"/>
<polygon points="213.1,143.9 221.9,142.3 215.6,140.2 206.9,141.7" fill="#6ec76c"/>
<polygon points="228.2,144.5 236.9,142.9 230.5,140.8 221.9,142.3" fill="#6ec76c"/>
<polygon points="258.7,145.7 267.3,144.1 260.6,142.0 252.1,143.5" fill="#6ec76c"/>
<polygon points="274.1,146.3 282.6,144.8 275.7,142.6 267.3,144.1" fill="#6ec76c"/>
<polygon points="289.5,147.0 297.9,145.4 291.0,143.3 282.6,144.8" fill="#6ec76c"/>
<polygon points="100.2,141.6 109.4,140.0 104.2,138.0 94.9,139.5" fill="#6ec76c"/>
<polygon points="129.5,142.6 138.7,141.1 133.2,139.0 124.0,140.5" fill="#6ec76c"/>
<polygon points="144.3,143.1 153.4,141.6 147.8,139.5 138.7,141.1" fill="#6ec76c"/>
<polygon points="174.1,144.3 183.1,142.7 177.2,140.6 168.2,142.1" fill="#6ec76c"/>
<polygon points="189.1,144.8 198.1,143.3 192.0,141.2 183.1,142.7" fill="#6ec76c"/>
<polygon points="204.3,145.4 213.1,143.9 206.9,141.7 198.1,143.3" fill="#6ec76c"/>
<polygon points="219.4,146.0 228.2,144.5 221.9,142.3 213.1,143.9" fill="#6ec76c"/>
<polygon points="250.0,147.2 258.7,145.7 252.1,143.5 243.4,145.1" fill="#6ec76c"/>
<polygon points="265.5,147.9 274.1,146.3 267.3,144.1 258.7,145.7" fill="#6ec76c"/>
<polygon points="296.5,149.2 305.0,147.6 297.9,145.4 289.5,147.0" fill="#6ec76c"/>
<polygon points="114.8,142.1 124.0,140.5 118.6,138.5 109.4,140.0" fill="#6ec76c"/>
<polygon points="159.2,143.7 168.2,142.1 162.4,140.1 153.4,141.6" fill="#6ec76c"/>
<polygon points="234.7,146.6 243.4,145.1 236.9,142.9 228.2,144.5" fill="#6ec76c"/>
<polygon points="281.0,148.5 289.5,147.0 282.6,144.8 274.1,146.3" fill="#6ec76c"/>
<polygon points="135.1,144.7 144.3,143.1 138.7,141.1 129.5,142.6" fill="#6ec76c"/>
<polygon points="180.1,146.4 189.1,144.8 183.1,142.7 174.1,144.3" fill="#6ec76c"/>
<polygon points="210.5,147.6 219.4,146.0 213.1,143.9 204.3,145.4" fill="#6ec76c"/>
<polygon points="256.8,149.5 265.5,147.9 258.7,145.7 250.0,147.2" fill="#6ec76c"/>
<polygon points="105.5,143.6 114.8,142.1 109.4,140.0 100.2,141.6" fill="#6ec76c"/>
<polygon points="120.2,144.2 129.5,142.6 124.0,140.5 114.8,142.1" fill="#6ec76c"/>
<polygon points="150.0,145.2 159.2,143.7 153.4,141.6 144.3,143.1" fill="#6ec76c"/>
<polygon points="165.0,145.8 174.1,144.3 168.2,142.1 159.2,143.7" fill="#6ec76c"/>
<polygon points="195.3,147.0 204.3,145.4 198.1,143.3 189.1,144.8" fill="#6ec76c"/>
<polygon points="225.9,148.2 234.7,146.6 228.2,144.5 219.4,146.0" fill="#6ec76c"/>
<polygon points="241.3,148.8 250.0,147.2 243.4,145.1 234.7,146.6" fill="#6ec76c"/>
<polygon points="272.3,150.1 281.0,148.5 274.1,146.3 265.5,147.9" fill="#6ec76c"/>
<polygon points="288.0,150.8 296.5,149.2 289.5,147.0 281.0,148.5" fill="#6ec76c"/>
<polygon points="110.8,145.7 120.2,144.2 114.8,142.1 105.5,143.6" fill="#6ec76c"/>
<polygon points="125.8,146.3 135.1,144.7 129.5,142.6 120.2,144.2" fill="#6ec76c"/>
<polygon points="140.8,146.8 150.0,145.2 144.3,143.1 135.1,144.7" fill="#6ec76c"/>
<polygon points="155.8,147.4 165.0,145.8 159.2,143.7 150.0,145.2" fill="#6ec76c"/>
<polygon points="171.0,148.0 180.1,146.4 174.1,144.3 165.0,145.8" fill="#6ec76c"/>
<polygon points="186.2,148.6 195.3,147.0 189.1,144.8 180.1,146.4" fill="#6ec76c"/>
<polygon points="201.5,149.2 210.5,147.6 204.3,145.4 195.3,147.0" fill="#6ec76c"/>
<polygon points="216.9,149.8 225.9,148.2 219.4,146.0 210.5,147.6" fill="#6ec76c"/>
<polygon points="232.4,150.4 241.3,148.8 234.7,146.6 225.9,148.2" fill="#6ec76c"/>
<polygon points="248.0,151.1 256.8,149.5 250.0,147.2 241.3,148.8" fill="#6ec76c"/>
<polygon points="263.6,151.7 272.3,150.1 265.5,147.9 256.8,149.5" fill="#6ec76c"/>
<polygon points="279.3,152.4 288.0,150.8 281.0,148.5 272.3,150.1" fill="#6ec76c"/>
<polygon points="116.3,147.9 125.8,146.3 120.2,144.2 110.8,145.7" fill="#6ec76c"/>
<polygon points="146.5,149.0 155.8,147.4 150.0,145.2 140.8,146.8" fill="#6ec76c"/>
<polygon points="161.7,149.6 171.0,148.0 165.0,145.8 155.8,147.4" fill="#6ec76c"/>
<polygon points="177.0,150.2 186.2,148.6 180.1,146.4 171.0,148.0" fill="#6ec76c"/>
<polygon points="192.4,150.8 201.5,149.2 195.3,147.0 186.2,148.6" fill="#6ec76c"/>
<polygon points="207.9,151.4 216.9,149.8 210.5,147.6 201.5,149.2" fill="#6ec76c"/>
<polygon points="223.4,152.0 232.4,150.4 225.9,148.2 216.9,149.8" fill="#6ec76c"/>
<polygon points="239.0,152.7 248.0,151.1 241.3,148.8 232.4,150.4" fill="#6ec76c"/>
<polygon points="270.5,154.0 279.3,152.4 272.3,150.1 263.6,151.7" fill="#6ec76c"/>
<polygon points="131.4,148.4 140.8,146.8 135.1,144.7 125.8,146.3" fill="#6ec76c"/>
<polygon points="254.8,153.3 263.6,151.7 256.8,149.5 248.0,151.1" fill="#6ec76c"/>
<polygon points="152.4,151.2 161.7,149.6 155.8,147.4 146.5,149.0" fill="#6ec76c"/>
<polygon points="183.2,152.4 192.4,150.8 186.2,148.6 177.0,150.2" fill="#6ec76c"/>
<polygon points="198.7,153.0 207.9,151.4 201.5,149.2 192.4,150.8" fill="#6ec76c"/>
<polygon points="230.0,154.3 239.0,152.7 232.4,150.4 223.4,152.0" fill="#6ec76c"/>
<polygon points="121.9,150.0 131.4,148.4 125.8,146.3 116.3,147.9" fill="#6ec76c"/>
<polygon points="137.1,150.6 146.5,149.0 140.8,146.8 131.4,148.4" fill="#6ec76c"/>
<polygon points="167.7,151.8 177.0,150.2 171.0,148.0 161.7,149.6" fill="#6ec76c"/>
<polygon points="214.3,153.7 223.4,152.0 216.9,149.8 207.9,151.4" fill="#6ec76c"/>
<polygon points="245.8,155.0 254.8,153.3 248.0,151.1 239.0,152.7" fill="#6ec76c"/>
<polygon points="261.7,155.7 270.5,154.0 263.6,151.7 254.8,153.3" fill="#0b6e3b"/>
<polygon points="127.6,152.3 137.1,150.6 131.4,148.4 121.9,150.0" fill="#6ec76c"/>
<polygon points="142.9,152.8 152.4,151.2 146.5,149.0 137.1,150.6" fill="#6ec76c"/>
<polygon points="158.3,153.4 167.7,151.8 161.7,149.6 152.4,151.2" fill="#6ec76c"/>
<polygon points="173.9,154.1 183.2,152.4 177.0,150.2 167.7,151.8" fill="#6ec76c"/>
<polygon points="189.5,154.7 198.7,153.0 192.4,150.8 183.2,152.4" fill="#6ec76c"/>
<polygon points="205.1,155.3 214.3,153.7 207.9,151.4 198.7,153.0" fill="#6ec76c"/>
<polygon points="220.9,156.0 230.0,154.3 223.4,152.0 214.3,153.7" fill="#0b6e3b"/>
<polygon points="236.8,156.6 245.8,155.0 239.0,152.7 230.0,154.3" fill="#0b6e3b"/>
<polygon points="252.7,157.3 261.7,155.7 254.8,153.3 245.8,155.0" fill="#0b6e3b"/>
<polygon points="133.3,154.5 142.9,152.8 137.1,150.6 127.6,152.3" fill="#6ec76c"/>
<polygon points="164.4,155.7 173.9,154.1 167.7,151.8 158.3,153.4" fill="#6ec76c"/>
<polygon points="211.7,157.7 220.9,156.0 214.3,153.7 205.1,155.3" fill="#0b6e3b"/>
<polygon points="243.6,159.0 252.7,157.3 245.8,155.0 236.8,156.6" fill="#0b6e3b"/>
<polygon points="148.8,155.1 158.3,153.4 152.4,151.2 142.9,152.8" fill="#6ec76c"/>
<polygon points="180.1,156.4 189.5,154.7 183.2,152.4 173.9,154.1" fill="#0b6e3b"/>
<polygon points="195.8,157.0 205.1,155.3 198.7,153.0 189.5,154.7" fill="#0b6e3b"/>
<polygon points="227.6,158.3 236.8,156.6 230.0,154.3 220.9,156.0" fill="#0b6e3b"/>
<polygon points="139.2,156.8 148.8,155.1 142.9,152.8 133.3,154.5" fill="#6ec76c"/>
<polygon points="154.9,157.4 164.4,155.7 158.3,153.4 148.8,155.1" fill="#0b6e3b"/>
<polygon points="170.6,158.0 180.1,156.4 173.9,154.1 164.4,155.7" fill="#0b6e3b"/>
<polygon points="186.4,158.7 195.8,157.0 189.5,154.7 180.1,156.4" fill="#0b6e3b"/>
<polygon points="202.3,159.4 211.7,157.7 205.1,155.3 195.8,157.0" fill="#0b6e3b"/>
<polygon points="218.3,160.0 227.6,158.3 220.9,156.0 211.7,157.7" fill="#0b6e3b"/>
<polygon points="234.4,160.7 243.6,159.0 236.8,156.6 227.6,158.3" fill="#0b6e3b"/>
<polygon points="145.2,159.1 154.9,157.4 148.8,155.1 139.2,156.8" fill="#0b6e3b"/>
<polygon points="161.0,159.8 170.6,158.0 164.4,155.7 154.9,157.4" fill="#0b6e3b"/>
<polygon points="176.9,160.4 186.4,158.7 180.1,156.4 170.6,158.0" fill="#0b6e3b"/>
<polygon points="192.9,161.1 202.3,159.4 195.8,157.0 186.4,158.7" fill="#0b6e3b"/>
<polygon points="208.9,161.7 218.3,160.0 211.7,157.7 202.3,159.4" fill="#0b6e3b"/>
<polygon points="225.1,162.4 234.4,160.7 227.6,158.3 218.3,160.0" fill="#0b6e3b"/>
<polygon points="151.3,161.5 161.0,159.8 154.9,157.4 145.2,159.1" fill="#0b6e3b"/>
<polygon points="183.3,162.8 192.9,161.1 186.4,158.7 176.9,160.4" fill="#0b6e3b"/>
<polygon points="215.6,164.2 225.1,162.4 218.3,160.0 208.9,161.7" fill="#0b6e3b"/>
<polygon points="167.2,162.1 176.9,160.4 170.6,158.0 161.0,159.8" fill="#0b6e3b"/>
<polygon points="199.4,163.5 208.9,161.7 202.3,159.4 192.9,161.1" fill="#0b6e3b"/>
<polygon points="157.5,163.9 167.2,162.1 161.0,159.8 151.3,161.5" fill="#0b6e3b"/>
<polygon points="173.6,164.6 183.3,162.8 176.9,160.4 167.2,162.1" fill="#0b6e3b"/>
<polygon points="189.8,165.3 199.4,163.5 192.9,161.1 183.3,162.8" fill="#0b6e3b"/>
<polygon points="206.1,166.0 215.6,164.2 208.9,161.7 199.4,163.5" fill="#0b6e3b"/>
<polygon points="163.8,166.4 173.6,164.6 167.2,162.1 157.5,163.9" fill="#0b6e3b"/>
<polygon points="180.0,167.0 189.8,165.3 183.3,162.8 173.6,164.6" fill="#0b6e3b"/>
<polygon points="196.4,167.7 206.1,166.0 199.4,163.5 189.8,165.3" fill="#0b6e3b"/>
<polygon points="170.2,168.9 180.0,167.0 173.6,164.6 163.8,166.4" fill="#0b6e3b"/>
<polygon points="186.6,169.6 196.4,167.7 189.8,165.3 180.0,167.0" fill="#0b6e3b"/>
<polygon points="176.7,171.4 186.6,169.6 180.0,167.0 170.2,168.9" fill="#0b6e3b"/>
</g>
<polyline class="bl" points="176.7,171.4 178.4,169.2 180.0,167.0 181.7,164.9 183.3,162.8 184.9,160.7 186.4,158.7 187.9,156.7 189.5,154.7 190.9,152.7 192.4,150.8 193.9,148.9 195.3,147.0 196.7,145.1 198.1,143.3 199.4,141.5 200.8,139.7 202.1,137.9 203.4,136.1 204.7,134.4 206.0,132.7 207.3,131.0 208.5,129.4 209.7,127.7 210.9,126.1 212.1,124.5 213.3,122.9 214.5,121.3 215.6,119.8 216.8,118.2 217.9,116.7 219.0,115.2 220.1,113.7 221.2,112.3 222.2,110.8 223.3,109.4 224.3,107.9 225.3,106.5 226.4,105.1 227.4,103.8 228.4,102.4"/>
<polyline class="bl" points="65.4,128.0 72.2,128.2 79.1,128.4 86.0,128.6 92.9,128.9 99.9,129.1 106.8,129.3 113.8,129.5 120.8,129.7 127.8,130.0 134.8,130.2 141.9,130.5 148.9,130.7 156.0,130.9 163.1,131.2 170.2,131.4 177.3,131.7 184.5,131.9 191.6,132.2 198.8,132.4 206.0,132.7 213.2,133.0 220.5,133.2 227.7,133.5 235.0,133.8 242.3,134.1 249.6,134.4 256.9,134.6 264.2,134.9 271.6,135.2 279.0,135.5 286.4,135.8 293.8,136.1 301.2,136.4 308.7,136.7 316.1,137.0 323.6,137.3 331.1,137.6 338.7,138.0 346.2,138.3 353.8,138.6"/>
<line x1="63.7" y1="95.6" x2="176.6" y2="153.7" class="bx"/>
<line x1="176.6" y1="153.7" x2="355.4" y2="111.4" class="bx"/>
<line x1="178.3" y1="361.5" x2="176.6" y2="153.7" class="bx"/>
<line x1="73.1" y1="278.3" x2="178.3" y2="361.5" class="ax"/>
<line x1="178.3" y1="361.5" x2="343.9" y2="301.1" class="ax"/>
<line x1="178.3" y1="361.5" x2="187.3" y2="376.3" class="tk"/>
<text class="tl" transform="translate(193.2,396.6) scale(0.940,1)">−1.5</text>
<line x1="178.3" y1="361.5" x2="167.9" y2="374.9" class="tk"/>
<text class="tl" transform="translate(158.3,392.6) scale(0.940,1)">−1.5</text>
<line x1="208.5" y1="350.5" x2="215.8" y2="365.4" class="tk"/>
<text class="tl" transform="translate(223.1,385.1) scale(0.940,1)">−1.0</text>
<line x1="158.5" y1="345.8" x2="148.4" y2="359.0" class="tk"/>
<text class="tl" transform="translate(139.2,376.4) scale(0.940,1)">−1.0</text>
<line x1="237.5" y1="339.9" x2="244.6" y2="354.6" class="tk"/>
<text class="tl" transform="translate(251.9,373.9) scale(0.940,1)">−0.5</text>
<line x1="139.6" y1="330.9" x2="129.9" y2="343.8" class="tk"/>
<text class="tl" transform="translate(121.1,360.9) scale(0.940,1)">−0.5</text>
<line x1="265.5" y1="329.7" x2="272.4" y2="344.2" class="tk"/>
<text class="tl" transform="translate(279.7,363.1) scale(0.940,1)">0.0</text>
<line x1="121.7" y1="316.7" x2="112.3" y2="329.5" class="tk"/>
<text class="tl" transform="translate(104.0,346.2) scale(0.940,1)">0.0</text>
<line x1="292.6" y1="319.8" x2="299.3" y2="334.1" class="tk"/>
<text class="tl" transform="translate(306.5,352.7) scale(0.940,1)">0.5</text>
<line x1="104.7" y1="303.3" x2="95.7" y2="315.8" class="tk"/>
<text class="tl" transform="translate(87.7,332.3) scale(0.940,1)">0.5</text>
<line x1="318.7" y1="310.3" x2="325.2" y2="324.4" class="tk"/>
<text class="tl" transform="translate(332.3,342.7) scale(0.940,1)">1.0</text>
<line x1="88.6" y1="290.5" x2="79.8" y2="302.8" class="tk"/>
<text class="tl" transform="translate(72.3,318.9) scale(0.940,1)">1.0</text>
<line x1="343.9" y1="301.1" x2="350.2" y2="315.0" class="tk"/>
<text class="tl" transform="translate(357.3,332.9) scale(0.940,1)">1.5</text>
<line x1="73.1" y1="278.3" x2="64.7" y2="290.3" class="tk"/>
<text class="tl" transform="translate(57.6,306.2) scale(0.940,1)">1.5</text>
<line x1="72.2" y1="261.1" x2="57.5" y2="260.0" class="tk"/>
<text class="tl" transform="translate(41.6,262.5) scale(0.940,1)">10</text>
<line x1="69.9" y1="216.0" x2="55.2" y2="214.9" class="tk"/>
<text class="tl" transform="translate(39.3,217.4) scale(0.940,1)">20</text>
<line x1="67.5" y1="169.2" x2="52.8" y2="168.1" class="tk"/>
<text class="tl" transform="translate(36.9,170.6) scale(0.940,1)">30</text>
<line x1="65.0" y1="120.5" x2="50.3" y2="119.4" class="tk"/>
<text class="tl" transform="translate(34.4,121.9) scale(0.940,1)">40</text>
<text class="at" transform="translate(235.5,412.9) rotate(-18.9) scale(0.93,1)">Actors' Attitudes Towards Porn.</text>
<text class="at" transform="translate(30.8,328.7) rotate(40.0) scale(0.93,1)">Partners' Attitudes Towards Porn.</text>
<text class="at" textLength="97.8" lengthAdjust="spacingAndGlyphs" transform="translate(10.3,235.7) rotate(-90.0)">Relationship Satisfaction</text>
<line x1="599.1" y1="91.8" x2="765.2" y2="61.5" class="bx"/>
<line x1="765.2" y1="61.5" x2="892.0" y2="107.7" class="bx"/>
<line x1="609.0" y1="276.2" x2="599.1" y2="91.8" class="bx"/>
<line x1="880.9" y1="297.9" x2="892.0" y2="107.7" class="bx"/>
<line x1="763.6" y1="230.7" x2="765.2" y2="61.5" class="dt"/>
<line x1="609.0" y1="276.2" x2="763.6" y2="230.7" class="dt"/>
<line x1="763.6" y1="230.7" x2="880.9" y2="297.9" class="dt"/>
<polyline class="ct" points="872.8,300.9 873.0,299.8 873.2,298.7 873.4,297.5 873.7,296.4 874.0,295.2 874.3,294.2 874.3,294.2"/>
<polyline class="ct" points="855.1,307.4 855.0,306.3 854.9,305.3 854.9,304.2 854.8,302.9 854.9,301.7 855.0,300.6 855.1,299.5 855.3,298.4 855.5,297.3 855.7,296.3 856.0,295.2 856.3,294.2 856.7,293.3 857.2,292.1 857.7,290.9 858.4,289.6 858.9,288.7 859.4,287.9 859.9,287.0 860.4,286.2"/>
<polyline class="ct" points="622.5,272.2 622.2,273.1 621.9,274.0 621.4,275.2 620.9,276.3 620.4,277.4 619.8,278.4 619.2,279.5 618.6,280.5 617.9,281.5 617.2,282.5 617.2,282.5"/>
<polyline class="ct" points="837.0,314.0 836.6,313.1 835.9,311.5 835.5,310.2 835.2,309.3 835.0,308.3 834.6,306.8 834.4,305.4 834.2,304.4 834.1,303.4 834.1,302.4 834.1,301.3 834.1,300.3 834.2,299.1 834.4,298.0 834.6,296.9 834.9,295.8 835.2,294.8 835.5,293.7 836.0,292.5 836.5,291.3 837.2,290.1 837.7,289.2 838.2,288.3 838.8,287.5 839.6,286.3 840.6,285.0 841.2,284.3 841.9,283.5 843.1,282.2 844.0,281.3 844.7,280.6 846.1,279.2 847.0,278.5 847.0,278.5"/>
<polyline class="ct" points="641.7,266.6 641.8,267.3 641.8,268.7 641.8,269.7 641.8,270.6 641.7,271.5 641.6,272.8 641.3,274.0 641.1,274.9 640.9,275.8 640.6,276.7 640.2,277.6 639.8,278.7 639.3,279.8 638.7,280.8 638.1,281.9 637.5,282.9 636.8,283.9 636.1,284.8 635.3,285.9 634.3,287.0 633.3,288.2 632.1,289.4 631.3,290.3 630.4,291.2 629.4,292.0"/>
<polyline class="ct" points="818.4,320.8 817.2,319.4 816.3,318.3 815.2,316.8 814.4,315.8 813.5,314.4 812.7,313.2 812.1,312.2 811.2,310.5 810.7,309.7 810.1,308.3 809.6,307.0 809.2,306.0 808.9,304.9 808.5,303.4 808.3,302.3 808.1,301.3 808.1,300.3 808.0,299.3 808.1,298.0 808.2,296.8 808.4,295.7 808.7,294.6 809.0,293.6 809.4,292.6 809.8,291.6 810.4,290.6 811.1,289.4 812.0,288.1 812.6,287.2 813.3,286.4 814.1,285.4 815.4,284.1 816.1,283.4 817.0,282.5 818.5,281.3 819.3,280.6 820.9,279.3 821.8,278.6 823.3,277.6 824.5,276.8 826.0,275.7 827.2,275.0 829.1,273.8 830.0,273.2 831.9,272.1 832.9,271.6 833.9,271.0"/>
<polyline class="ct" points="660.5,261.0 661.1,262.0 661.7,263.1 662.3,264.2 662.8,265.1 663.3,266.2 663.7,267.3 664.0,268.1 664.5,269.5 664.7,270.3 665.0,271.5 665.1,272.6 665.2,273.4 665.3,274.5 665.3,275.9 665.2,276.8 665.1,277.7 665.0,278.6 664.7,279.6 664.3,280.8 663.9,281.9 663.4,283.0 662.8,284.0 662.2,285.0 661.6,286.0 660.9,287.0 660.2,287.9 659.2,289.0 658.0,290.3 656.8,291.4 655.9,292.2 655.0,293.0 653.3,294.4 652.1,295.4 651.0,296.1 649.0,297.6 647.8,298.3 646.4,299.3 644.5,300.5 643.3,301.2 642.2,301.9"/>
<polyline class="ct" points="799.3,327.8 797.3,326.3 795.3,324.9 793.3,323.4 791.4,321.9 790.4,321.2 788.5,319.7 786.6,318.3 784.8,316.8 783.0,315.3 781.2,313.9 780.3,313.1 778.6,311.7 776.9,310.2 775.3,308.7 774.5,308.0 773.0,306.5 771.5,304.9 770.9,304.2 769.6,302.6 768.6,301.4 767.8,300.3 767.2,299.1 766.5,297.8 766.2,296.9 765.8,295.6 765.7,294.2 765.8,293.2 766.0,292.2 766.4,291.1 767.0,289.9 767.6,289.0 768.3,288.2 769.2,287.3 770.8,285.9 771.7,285.2 773.5,284.0 774.6,283.3 776.6,282.1 777.7,281.5 779.8,280.4 781.8,279.4 783.1,278.8 785.3,277.8 787.5,276.8 789.1,276.1 791.0,275.3 793.3,274.4 795.6,273.4 797.9,272.5 800.2,271.6 801.4,271.1 803.7,270.2 806.0,269.3 808.4,268.4 810.7,267.6 813.0,266.7 815.3,265.8 817.7,265.0 819.8,264.2 821.2,263.7 821.2,263.7"/>
<polyline class="ct" points="678.9,255.6 680.4,256.8 681.8,257.9 683.3,259.0 684.0,259.6 685.5,260.8 687.0,262.0 688.4,263.1 689.9,264.3 691.3,265.5 692.4,266.5 693.4,267.4 694.8,268.6 696.1,269.9 697.4,271.2 698.1,271.8 699.3,273.1 700.5,274.4 701.1,275.1 702.1,276.5 702.8,277.5 703.5,278.7 704.0,279.7 704.6,281.0 704.8,281.8 705.0,283.0 705.0,284.4 704.9,285.3 704.6,286.3 704.1,287.3 703.5,288.5 702.6,289.6 701.8,290.4 700.9,291.2 699.3,292.5 698.0,293.4 696.7,294.3 694.8,295.5 693.2,296.3 691.3,297.3 688.9,298.5 687.7,299.1 685.2,300.3 682.6,301.4 680.8,302.2 678.7,303.1 676.1,304.2 673.4,305.2 670.7,306.3 669.3,306.9 666.6,307.9 663.8,309.0 661.0,310.0 658.2,311.1 655.4,312.1 655.4,312.1"/>
<polyline class="ct" points="779.7,335.0 777.0,333.7 775.7,333.1 773.0,331.9 770.2,330.7 768.8,330.1 766.0,328.9 764.4,328.2 761.7,327.1 759.5,326.3 757.3,325.5 755.0,324.7 752.7,323.9 751.0,323.4 747.9,322.4 746.2,322.0 743.8,321.3 741.0,320.6 739.1,320.2 737.3,319.8 734.7,319.4 731.9,318.9 729.3,318.5 726.9,318.3 724.6,318.0 722.2,317.8 719.7,317.7 717.4,317.6 715.2,317.5 713.1,317.5 711.0,317.5 707.9,317.6 704.9,317.7 703.0,317.9 700.7,318.0 697.3,318.3 695.4,318.5 692.1,318.9 689.9,319.2 687.1,319.6 684.6,319.9 681.5,320.4 679.4,320.8 675.9,321.4 674.2,321.7 670.8,322.4 669.1,322.7"/>
<polyline class="ct" points="696.8,250.4 698.9,251.3 700.7,252.0 702.2,252.7 704.4,253.6 705.7,254.1 707.9,254.9 710.2,255.8 711.5,256.2 713.9,257.1 715.2,257.5 717.8,258.3 719.2,258.7 721.4,259.4 723.3,259.9 724.8,260.3 727.7,261.0 729.4,261.3 731.0,261.7 733.2,262.1 735.8,262.5 738.0,262.8 739.9,263.1 741.9,263.3 743.9,263.5 746.1,263.7 748.3,263.8 750.7,263.9 753.2,264.0 755.2,264.0 757.1,264.0 758.9,263.9 761.8,263.8 764.2,263.7 765.9,263.6 768.6,263.4 770.9,263.1 772.5,263.0 775.7,262.6 777.3,262.4 780.4,262.0 781.9,261.8 784.9,261.3 786.7,261.0 789.3,260.6 792.2,260.1 793.6,259.8 796.5,259.3 799.3,258.7 800.6,258.4 803.4,257.8 806.1,257.3 807.5,257.0 808.8,256.7"/>
<polyline class="ct" points="759.5,342.4 757.6,341.8 754.5,340.8 752.7,340.3 750.2,339.6 747.4,338.9 745.6,338.4 743.4,337.9 740.3,337.2 738.0,336.7 736.0,336.3 733.9,336.0 731.4,335.5 728.6,335.1 725.9,334.7 723.3,334.4 720.7,334.1 718.3,333.9 715.8,333.7 713.4,333.5 711.1,333.4 708.7,333.3 706.5,333.2 704.2,333.1 702.0,333.1 699.0,333.1 695.7,333.2 693.5,333.2 691.4,333.3 688.8,333.4 685.3,333.7 683.4,333.8 683.4,333.8"/>
<polyline class="ct" points="714.4,245.2 716.8,245.8 718.5,246.3 719.9,246.6 722.8,247.3 724.3,247.7 725.8,248.0 728.4,248.5 730.5,248.9 732.2,249.2 733.9,249.5 736.1,249.9 738.5,250.2 740.9,250.5 742.8,250.7 744.8,251.0 746.8,251.2 748.8,251.3 750.9,251.5 753.1,251.6 755.3,251.7 757.7,251.8 759.8,251.9 761.7,251.9 763.6,252.0 765.4,252.0 767.9,251.9 770.8,251.9 772.6,251.8 774.3,251.7 776.8,251.6 779.4,251.5 781.1,251.3 783.6,251.2 785.9,251.0 787.5,250.8 790.7,250.5 792.2,250.3 795.2,250.0 796.8,249.8 796.8,249.8"/>
<polyline class="ct" points="738.9,350.0 736.8,349.6 734.3,349.1 731.4,348.5 728.5,348.1 726.2,347.7 723.9,347.4 721.6,347.1 719.3,346.8 716.9,346.5 714.4,346.3 711.9,346.1 709.3,345.8 706.7,345.7 704.0,345.5 701.2,345.4 698.3,345.3 698.2,345.3"/>
<polyline class="ct" points="731.6,240.1 733.6,240.5 736.0,240.9 738.3,241.2 740.1,241.4 741.9,241.7 743.7,241.9 745.6,242.1 747.5,242.3 749.6,242.5 751.7,242.7 753.8,242.8 755.9,243.0 757.9,243.1 760.0,243.2 762.3,243.3 764.6,243.4 767.0,243.4 769.4,243.4 771.2,243.4 773.0,243.4 774.8,243.4 777.5,243.4 780.1,243.3 781.8,243.2 783.5,243.2 785.1,243.1"/>
<polyline class="ct" points="717.6,357.7 715.2,357.5 713.6,357.3"/>
<polyline class="ct" points="748.4,235.2 750.3,235.4 752.4,235.6 754.4,235.7 756.5,235.9 758.5,236.0 760.5,236.2 762.6,236.3 764.8,236.4 767.1,236.4 769.4,236.5 771.8,236.6 773.8,236.6 773.8,236.6"/>
<g class="sf" stroke="rgba(0,0,0,0.52)">
<polygon points="762.9,90.8 770.4,87.2 765.0,82.6 757.5,86.4" fill="#68c066"/>
<polygon points="755.4,94.4 762.9,90.8 757.5,86.4 750.0,90.1" fill="#68c066"/>
<polygon points="768.4,95.3 775.9,91.9 770.4,87.2 762.9,90.8" fill="#68c066"/>
<polygon points="747.8,98.0 755.4,94.4 750.0,90.1 742.4,94.0" fill="#68c066"/>
<polygon points="774.0,99.9 781.5,96.7 775.9,91.9 768.4,95.3" fill="#68c066"/>
<polygon points="760.8,98.7 768.4,95.3 762.9,90.8 755.4,94.4" fill="#68c066"/>
<polygon points="740.1,101.7 747.8,98.0 742.4,94.0 734.7,97.8" fill="#68c066"/>
<polygon points="779.6,104.5 787.2,101.5 781.5,96.7 774.0,99.9" fill="#68c066"/>
<polygon points="753.2,102.2 760.8,98.7 755.4,94.4 747.8,98.0" fill="#68c066"/>
<polygon points="766.4,103.1 774.0,99.9 768.4,95.3 760.8,98.7" fill="#68c066"/>
<polygon points="732.3,105.4 740.1,101.7 734.7,97.8 727.0,101.7" fill="#68c066"/>
<polygon points="785.3,109.2 792.9,106.4 787.2,101.5 779.6,104.5" fill="#68c066"/>
<polygon points="745.5,105.6 753.2,102.2 747.8,98.0 740.1,101.7" fill="#68c066"/>
<polygon points="758.7,106.3 766.4,103.1 760.8,98.7 753.2,102.2" fill="#68c066"/>
<polygon points="772.0,107.5 779.6,104.5 774.0,99.9 766.4,103.1" fill="#68c066"/>
<polygon points="724.5,109.1 732.3,105.4 727.0,101.7 719.2,105.6" fill="#68c066"/>
<polygon points="791.1,113.9 798.6,111.3 792.9,106.4 785.3,109.2" fill="#68c066"/>
<polygon points="737.7,109.1 745.5,105.6 740.1,101.7 732.3,105.4" fill="#68c066"/>
<polygon points="751.0,109.6 758.7,106.3 753.2,102.2 745.5,105.6" fill="#68c066"/>
<polygon points="764.3,110.6 772.0,107.5 766.4,103.1 758.7,106.3" fill="#68c066"/>
<polygon points="777.7,112.0 785.3,109.2 779.6,104.5 772.0,107.5" fill="#68c066"/>
<polygon points="716.6,112.9 724.5,109.1 719.2,105.6 711.3,109.6" fill="#68c066"/>
<polygon points="796.9,118.7 804.5,116.2 798.6,111.3 791.1,113.9" fill="#68c066"/>
<polygon points="729.9,112.7 737.7,109.1 732.3,105.4 724.5,109.1" fill="#68c066"/>
<polygon points="743.2,112.9 751.0,109.6 745.5,105.6 737.7,109.1" fill="#68c066"/>
<polygon points="756.6,113.6 764.3,110.6 758.7,106.3 751.0,109.6" fill="#68c066"/>
<polygon points="770.0,114.8 777.7,112.0 772.0,107.5 764.3,110.6" fill="#68c066"/>
<polygon points="783.4,116.5 791.1,113.9 785.3,109.2 777.7,112.0" fill="#68c066"/>
<polygon points="708.7,116.6 716.6,112.9 711.3,109.6 703.4,113.5" fill="#68c066"/>
<polygon points="735.3,116.2 743.2,112.9 737.7,109.1 729.9,112.7" fill="#68c066"/>
<polygon points="748.7,116.7 756.6,113.6 751.0,109.6 743.2,112.9" fill="#68c066"/>
<polygon points="762.2,117.7 770.0,114.8 764.3,110.6 756.6,113.6" fill="#68c066"/>
<polygon points="775.7,119.2 783.4,116.5 777.7,112.0 770.0,114.8" fill="#68c066"/>
<polygon points="802.8,123.5 810.4,121.3 804.5,116.2 796.9,118.7" fill="#abe066"/>
<polygon points="722.0,116.2 729.9,112.7 724.5,109.1 716.6,112.9" fill="#68c066"/>
<polygon points="789.2,121.1 796.9,118.7 791.1,113.9 783.4,116.5" fill="#68c066"/>
<polygon points="700.6,120.5 708.7,116.6 703.4,113.5 695.4,117.5" fill="#abe066"/>
<polygon points="740.8,119.9 748.7,116.7 743.2,112.9 735.3,116.2" fill="#68c066"/>
<polygon points="754.4,120.6 762.2,117.7 756.6,113.6 748.7,116.7" fill="#68c066"/>
<polygon points="767.9,121.9 775.7,119.2 770.0,114.8 762.2,117.7" fill="#68c066"/>
<polygon points="808.8,128.4 816.4,126.4 810.4,121.3 802.8,123.5" fill="#abe066"/>
<polygon points="727.4,119.6 735.3,116.2 729.9,112.7 722.0,116.2" fill="#68c066"/>
<polygon points="781.5,123.6 789.2,121.1 783.4,116.5 775.7,119.2" fill="#68c066"/>
<polygon points="714.0,119.8 722.0,116.2 716.6,112.9 708.7,116.6" fill="#68c066"/>
<polygon points="795.1,125.7 802.8,123.5 796.9,118.7 789.2,121.1" fill="#abe066"/>
<polygon points="692.6,124.3 700.6,120.5 695.4,117.5 687.4,121.6" fill="#abe066"/>
<polygon points="746.4,123.6 754.4,120.6 748.7,116.7 740.8,119.9" fill="#68c066"/>
<polygon points="760.0,124.6 767.9,121.9 762.2,117.7 754.4,120.6" fill="#68c066"/>
<polygon points="814.8,133.4 822.5,131.5 816.4,126.4 808.8,128.4" fill="#abe066"/>
<polygon points="732.9,123.0 740.8,119.9 735.3,116.2 727.4,119.6" fill="#68c066"/>
<polygon points="773.7,126.0 781.5,123.6 775.7,119.2 767.9,121.9" fill="#abe066"/>
<polygon points="705.9,123.4 714.0,119.8 708.7,116.6 700.6,120.5" fill="#abe066"/>
<polygon points="719.4,123.0 727.4,119.6 722.0,116.2 714.0,119.8" fill="#abe066"/>
<polygon points="787.4,128.0 795.1,125.7 789.2,121.1 781.5,123.6" fill="#abe066"/>
<polygon points="801.1,130.4 808.8,128.4 802.8,123.5 795.1,125.7" fill="#abe066"/>
<polygon points="752.1,127.3 760.0,124.6 754.4,120.6 746.4,123.6" fill="#abe066"/>
<polygon points="684.4,128.2 692.6,124.3 687.4,121.6 679.3,125.7" fill="#abe066"/>
<polygon points="738.4,126.5 746.4,123.6 740.8,119.9 732.9,123.0" fill="#abe066"/>
<polygon points="765.8,128.5 773.7,126.0 767.9,121.9 760.0,124.6" fill="#abe066"/>
<polygon points="821.0,138.4 828.6,136.8 822.5,131.5 814.8,133.4" fill="#abe066"/>
<polygon points="697.8,127.1 705.9,123.4 700.6,120.5 692.6,124.3" fill="#abe066"/>
<polygon points="711.3,126.4 719.4,123.0 714.0,119.8 705.9,123.4" fill="#abe066"/>
<polygon points="724.8,126.2 732.9,123.0 727.4,119.6 719.4,123.0" fill="#abe066"/>
<polygon points="779.6,130.3 787.4,128.0 781.5,123.6 773.7,126.0" fill="#abe066"/>
<polygon points="793.3,132.5 801.1,130.4 795.1,125.7 787.4,128.0" fill="#abe066"/>
<polygon points="807.1,135.2 814.8,133.4 808.8,128.4 801.1,130.4" fill="#abe066"/>
<polygon points="676.2,132.1 684.4,128.2 679.3,125.7 671.1,129.8" fill="#abe066"/>
<polygon points="744.1,130.1 752.1,127.3 746.4,123.6 738.4,126.5" fill="#abe066"/>
<polygon points="757.8,131.1 765.8,128.5 760.0,124.6 752.1,127.3" fill="#abe066"/>
<polygon points="827.2,143.5 834.8,142.1 828.6,136.8 821.0,138.4" fill="#abe066"/>
<polygon points="703.1,129.9 711.3,126.4 705.9,123.4 697.8,127.1" fill="#abe066"/>
<polygon points="716.7,129.5 724.8,126.2 719.4,123.0 711.3,126.4" fill="#abe066"/>
<polygon points="730.4,129.5 738.4,126.5 732.9,123.0 724.8,126.2" fill="#abe066"/>
<polygon points="771.6,132.6 779.6,130.3 773.7,126.0 765.8,128.5" fill="#abe066"/>
<polygon points="785.5,134.6 793.3,132.5 787.4,128.0 779.6,130.3" fill="#abe066"/>
<polygon points="799.4,137.1 807.1,135.2 801.1,130.4 793.3,132.5" fill="#abe066"/>
<polygon points="689.6,130.8 697.8,127.1 692.6,124.3 684.4,128.2" fill="#abe066"/>
<polygon points="813.3,140.0 821.0,138.4 814.8,133.4 807.1,135.2" fill="#abe066"/>
<polygon points="667.9,136.1 676.2,132.1 671.1,129.8 662.8,133.9" fill="#abe066"/>
<polygon points="833.5,148.6 841.1,147.4 834.8,142.1 827.2,143.5" fill="#abe066"/>
<polygon points="708.5,132.7 716.7,129.5 711.3,126.4 703.1,129.9" fill="#abe066"/>
<polygon points="722.2,132.5 730.4,129.5 724.8,126.2 716.7,129.5" fill="#abe066"/>
<polygon points="736.0,132.8 744.1,130.1 738.4,126.5 730.4,129.5" fill="#abe066"/>
<polygon points="749.8,133.6 757.8,131.1 752.1,127.3 744.1,130.1" fill="#abe066"/>
<polygon points="763.7,134.9 771.6,132.6 765.8,128.5 757.8,131.1" fill="#abe066"/>
<polygon points="777.6,136.7 785.5,134.6 779.6,130.3 771.6,132.6" fill="#abe066"/>
<polygon points="791.5,138.9 799.4,137.1 793.3,132.5 785.5,134.6" fill="#abe066"/>
<polygon points="681.3,134.5 689.6,130.8 684.4,128.2 676.2,132.1" fill="#abe066"/>
<polygon points="694.9,133.4 703.1,129.9 697.8,127.1 689.6,130.8" fill="#abe066"/>
<polygon points="805.5,141.7 813.3,140.0 807.1,135.2 799.4,137.1" fill="#abe066"/>
<polygon points="819.5,144.9 827.2,143.5 821.0,138.4 813.3,140.0" fill="#abe066"/>
<polygon points="659.5,140.1 667.9,136.1 662.8,133.9 654.5,138.1" fill="#abe066"/>
<polygon points="714.0,135.6 722.2,132.5 716.7,129.5 708.5,132.7" fill="#abe066"/>
<polygon points="727.8,135.7 736.0,132.8 730.4,129.5 722.2,132.5" fill="#abe066"/>
<polygon points="769.6,138.8 777.6,136.7 771.6,132.6 763.7,134.9" fill="#abe066"/>
<polygon points="783.6,140.8 791.5,138.9 785.5,134.6 777.6,136.7" fill="#abe066"/>
<polygon points="839.8,153.8 847.4,152.8 841.1,147.4 833.5,148.6" fill="#abe066"/>
<polygon points="673.0,138.2 681.3,134.5 676.2,132.1 667.9,136.1" fill="#abe066"/>
<polygon points="686.6,136.9 694.9,133.4 689.6,130.8 681.3,134.5" fill="#abe066"/>
<polygon points="700.2,136.0 708.5,132.7 703.1,129.9 694.9,133.4" fill="#abe066"/>
<polygon points="741.7,136.2 749.8,133.6 744.1,130.1 736.0,132.8" fill="#abe066"/>
<polygon points="755.6,137.3 763.7,134.9 757.8,131.1 749.8,133.6" fill="#abe066"/>
<polygon points="797.6,143.3 805.5,141.7 799.4,137.1 791.5,138.9" fill="#abe066"/>
<polygon points="811.7,146.3 819.5,144.9 813.3,140.0 805.5,141.7" fill="#abe066"/>
<polygon points="825.7,149.8 833.5,148.6 827.2,143.5 819.5,144.9" fill="#abe066"/>
<polygon points="651.0,144.1 659.5,140.1 654.5,138.1 646.1,142.3" fill="#abe066"/>
<polygon points="719.5,138.5 727.8,135.7 722.2,132.5 714.0,135.6" fill="#abe066"/>
<polygon points="775.5,142.7 783.6,140.8 777.6,136.7 769.6,138.8" fill="#abe066"/>
<polygon points="846.3,159.1 853.9,158.3 847.4,152.8 839.8,153.8" fill="#abe066"/>
<polygon points="678.2,140.4 686.6,136.9 681.3,134.5 673.0,138.2" fill="#abe066"/>
<polygon points="691.9,139.3 700.2,136.0 694.9,133.4 686.6,136.9" fill="#abe066"/>
<polygon points="705.7,138.7 714.0,135.6 708.5,132.7 700.2,136.0" fill="#abe066"/>
<polygon points="733.5,138.8 741.7,136.2 736.0,132.8 727.8,135.7" fill="#abe066"/>
<polygon points="761.5,140.9 769.6,138.8 763.7,134.9 755.6,137.3" fill="#abe066"/>
<polygon points="789.6,145.0 797.6,143.3 791.5,138.9 783.6,140.8" fill="#abe066"/>
<polygon points="803.8,147.8 811.7,146.3 805.5,141.7 797.6,143.3" fill="#abe066"/>
<polygon points="817.9,151.1 825.7,149.8 819.5,144.9 811.7,146.3" fill="#abe066"/>
<polygon points="664.6,142.0 673.0,138.2 667.9,136.1 659.5,140.1" fill="#abe066"/>
<polygon points="747.4,139.6 755.6,137.3 749.8,133.6 741.7,136.2" fill="#abe066"/>
<polygon points="832.1,154.9 839.8,153.8 833.5,148.6 825.7,149.8" fill="#abe066"/>
<polygon points="642.5,148.1 651.0,144.1 646.1,142.3 637.6,146.6" fill="#abe066"/>
<polygon points="852.8,164.5 860.4,163.9 853.9,158.3 846.3,159.1" fill="#abe066"/>
<polygon points="683.5,142.7 691.9,139.3 686.6,136.9 678.2,140.4" fill="#abe066"/>
<polygon points="697.3,141.8 705.7,138.7 700.2,136.0 691.9,139.3" fill="#abe066"/>
<polygon points="711.2,141.4 719.5,138.5 714.0,135.6 705.7,138.7" fill="#abe066"/>
<polygon points="725.2,141.5 733.5,138.8 727.8,135.7 719.5,138.5" fill="#abe066"/>
<polygon points="767.4,144.7 775.5,142.7 769.6,138.8 761.5,140.9" fill="#abe066"/>
<polygon points="781.6,146.7 789.6,145.0 783.6,140.8 775.5,142.7" fill="#abe066"/>
<polygon points="795.8,149.3 803.8,147.8 797.6,143.3 789.6,145.0" fill="#abe066"/>
<polygon points="810.0,152.3 817.9,151.1 811.7,146.3 803.8,147.8" fill="#abe066"/>
<polygon points="656.1,145.8 664.6,142.0 659.5,140.1 651.0,144.1" fill="#abe066"/>
<polygon points="669.7,144.0 678.2,140.4 673.0,138.2 664.6,142.0" fill="#abe066"/>
<polygon points="739.2,142.0 747.4,139.6 741.7,136.2 733.5,138.8" fill="#abe066"/>
<polygon points="753.3,143.1 761.5,140.9 755.6,137.3 747.4,139.6" fill="#abe066"/>
<polygon points="824.3,155.9 832.1,154.9 825.7,149.8 817.9,151.1" fill="#abe066"/>
<polygon points="838.5,159.9 846.3,159.1 839.8,153.8 832.1,154.9" fill="#abe066"/>
<polygon points="633.9,152.2 642.5,148.1 637.6,146.6 629.1,150.9" fill="#abe066"/>
<polygon points="688.8,144.9 697.3,141.8 691.9,139.3 683.5,142.7" fill="#abe066"/>
<polygon points="702.8,144.3 711.2,141.4 705.7,138.7 697.3,141.8" fill="#abe066"/>
<polygon points="787.7,150.8 795.8,149.3 789.6,145.0 781.6,146.7" fill="#abe066"/>
<polygon points="802.0,153.6 810.0,152.3 803.8,147.8 795.8,149.3" fill="#abe066"/>
<polygon points="859.4,169.9 867.0,169.5 860.4,163.9 852.8,164.5" fill="#e3f48a"/>
<polygon points="661.2,147.6 669.7,144.0 664.6,142.0 656.1,145.8" fill="#abe066"/>
<polygon points="675.0,146.0 683.5,142.7 678.2,140.4 669.7,144.0" fill="#abe066"/>
<polygon points="716.8,144.1 725.2,141.5 719.5,138.5 711.2,141.4" fill="#abe066"/>
<polygon points="730.9,144.5 739.2,142.0 733.5,138.8 725.2,141.5" fill="#abe066"/>
<polygon points="745.0,145.3 753.3,143.1 747.4,139.6 739.2,142.0" fill="#abe066"/>
<polygon points="759.2,146.6 767.4,144.7 761.5,140.9 753.3,143.1" fill="#abe066"/>
<polygon points="773.5,148.5 781.6,146.7 775.5,142.7 767.4,144.7" fill="#abe066"/>
<polygon points="816.4,156.9 824.3,155.9 817.9,151.1 810.0,152.3" fill="#abe066"/>
<polygon points="830.7,160.7 838.5,159.9 832.1,154.9 824.3,155.9" fill="#abe066"/>
<polygon points="647.5,149.7 656.1,145.8 651.0,144.1 642.5,148.1" fill="#abe066"/>
<polygon points="845.0,165.1 852.8,164.5 846.3,159.1 838.5,159.9" fill="#abe066"/>
<polygon points="625.3,156.4 633.9,152.2 629.1,150.9 620.5,155.2" fill="#e3f48a"/>
<polygon points="694.2,147.2 702.8,144.3 697.3,141.8 688.8,144.9" fill="#abe066"/>
<polygon points="794.0,154.9 802.0,153.6 795.8,149.3 787.7,150.8" fill="#abe066"/>
<polygon points="866.1,175.4 873.7,175.2 867.0,169.5 859.4,169.9" fill="#e3f48a"/>
<polygon points="666.4,149.4 675.0,146.0 669.7,144.0 661.2,147.6" fill="#abe066"/>
<polygon points="680.3,148.1 688.8,144.9 683.5,142.7 675.0,146.0" fill="#abe066"/>
<polygon points="708.3,146.8 716.8,144.1 711.2,141.4 702.8,144.3" fill="#abe066"/>
<polygon points="736.7,147.5 745.0,145.3 739.2,142.0 730.9,144.5" fill="#abe066"/>
<polygon points="750.9,148.6 759.2,146.6 753.3,143.1 745.0,145.3" fill="#abe066"/>
<polygon points="779.6,152.3 787.7,150.8 781.6,146.7 773.5,148.5" fill="#abe066"/>
<polygon points="808.4,158.0 816.4,156.9 810.0,152.3 802.0,153.6" fill="#abe066"/>
<polygon points="822.8,161.6 830.7,160.7 824.3,155.9 816.4,156.9" fill="#abe066"/>
<polygon points="652.6,151.3 661.2,147.6 656.1,145.8 647.5,149.7" fill="#abe066"/>
<polygon points="837.2,165.7 845.0,165.1 838.5,159.9 830.7,160.7" fill="#abe066"/>
<polygon points="638.8,153.6 647.5,149.7 642.5,148.1 633.9,152.2" fill="#abe066"/>
<polygon points="722.5,146.9 730.9,144.5 725.2,141.5 716.8,144.1" fill="#abe066"/>
<polygon points="765.2,150.2 773.5,148.5 767.4,144.7 759.2,146.6" fill="#abe066"/>
<polygon points="851.7,170.3 859.4,169.9 852.8,164.5 845.0,165.1" fill="#e3f48a"/>
<polygon points="616.5,160.5 625.3,156.4 620.5,155.2 611.8,159.6" fill="#e3f48a"/>
<polygon points="671.6,151.3 680.3,148.1 675.0,146.0 666.4,149.4" fill="#abe066"/>
<polygon points="685.7,150.2 694.2,147.2 688.8,144.9 680.3,148.1" fill="#abe066"/>
<polygon points="699.8,149.5 708.3,146.8 702.8,144.3 694.2,147.2" fill="#abe066"/>
<polygon points="742.5,150.6 750.9,148.6 745.0,145.3 736.7,147.5" fill="#abe066"/>
<polygon points="785.8,156.2 794.0,154.9 787.7,150.8 779.6,152.3" fill="#abe066"/>
<polygon points="800.3,159.0 808.4,158.0 802.0,153.6 794.0,154.9" fill="#abe066"/>
<polygon points="814.8,162.4 822.8,161.6 816.4,156.9 808.4,158.0" fill="#abe066"/>
<polygon points="872.9,180.9 880.5,181.0 873.7,175.2 866.1,175.4" fill="#e3f48a"/>
<polygon points="657.7,152.9 666.4,149.4 661.2,147.6 652.6,151.3" fill="#abe066"/>
<polygon points="829.3,166.3 837.2,165.7 830.7,160.7 822.8,161.6" fill="#abe066"/>
<polygon points="630.1,157.5 638.8,153.6 633.9,152.2 625.3,156.4" fill="#abe066"/>
<polygon points="643.8,155.0 652.6,151.3 647.5,149.7 638.8,153.6" fill="#abe066"/>
<polygon points="714.0,149.4 722.5,146.9 716.8,144.1 708.3,146.8" fill="#abe066"/>
<polygon points="728.2,149.8 736.7,147.5 730.9,144.5 722.5,146.9" fill="#abe066"/>
<polygon points="756.9,152.0 765.2,150.2 759.2,146.6 750.9,148.6" fill="#abe066"/>
<polygon points="771.3,153.8 779.6,152.3 773.5,148.5 765.2,150.2" fill="#abe066"/>
<polygon points="843.8,170.7 851.7,170.3 845.0,165.1 837.2,165.7" fill="#abe066"/>
<polygon points="858.4,175.5 866.1,175.4 859.4,169.9 851.7,170.3" fill="#e3f48a"/>
<polygon points="607.7,164.7 616.5,160.5 611.8,159.6 603.0,164.0" fill="#e3f48a"/>
<polygon points="677.0,153.2 685.7,150.2 680.3,148.1 671.6,151.3" fill="#abe066"/>
<polygon points="806.7,163.3 814.8,162.4 808.4,158.0 800.3,159.0" fill="#abe066"/>
<polygon points="879.7,186.6 887.4,186.8 880.5,181.0 872.9,180.9" fill="#e3f48a"/>
<polygon points="662.9,154.5 671.6,151.3 666.4,149.4 657.7,152.9" fill="#abe066"/>
<polygon points="821.3,166.9 829.3,166.3 822.8,161.6 814.8,162.4" fill="#abe066"/>
<polygon points="635.1,158.7 643.8,155.0 638.8,153.6 630.1,157.5" fill="#abe066"/>
<polygon points="648.9,156.4 657.7,152.9 652.6,151.3 643.8,155.0" fill="#abe066"/>
<polygon points="691.1,152.3 699.8,149.5 694.2,147.2 685.7,150.2" fill="#abe066"/>
<polygon points="705.4,151.9 714.0,149.4 708.3,146.8 699.8,149.5" fill="#abe066"/>
<polygon points="719.7,152.0 728.2,149.8 722.5,146.9 714.0,149.4" fill="#abe066"/>
<polygon points="734.1,152.6 742.5,150.6 736.7,147.5 728.2,149.8" fill="#abe066"/>
<polygon points="748.5,153.8 756.9,152.0 750.9,148.6 742.5,150.6" fill="#abe066"/>
<polygon points="763.0,155.4 771.3,153.8 765.2,150.2 756.9,152.0" fill="#abe066"/>
<polygon points="777.5,157.5 785.8,156.2 779.6,152.3 771.3,153.8" fill="#abe066"/>
<polygon points="792.1,160.1 800.3,159.0 794.0,154.9 785.8,156.2" fill="#abe066"/>
<polygon points="835.9,171.1 843.8,170.7 837.2,165.7 829.3,166.3" fill="#abe066"/>
<polygon points="850.5,175.7 858.4,175.5 851.7,170.3 843.8,170.7" fill="#e3f48a"/>
<polygon points="621.3,161.5 630.1,157.5 625.3,156.4 616.5,160.5" fill="#e3f48a"/>
<polygon points="865.1,180.9 872.9,180.9 866.1,175.4 858.4,175.5" fill="#e3f48a"/>
<polygon points="668.2,156.2 677.0,153.2 671.6,151.3 662.9,154.5" fill="#abe066"/>
<polygon points="813.2,167.6 821.3,166.9 814.8,162.4 806.7,163.3" fill="#abe066"/>
<polygon points="640.1,159.9 648.9,156.4 643.8,155.0 635.1,158.7" fill="#abe066"/>
<polygon points="654.1,157.8 662.9,154.5 657.7,152.9 648.9,156.4" fill="#abe066"/>
<polygon points="682.4,155.1 691.1,152.3 685.7,150.2 677.0,153.2" fill="#abe066"/>
<polygon points="711.1,154.3 719.7,152.0 714.0,149.4 705.4,151.9" fill="#abe066"/>
<polygon points="725.5,154.7 734.1,152.6 728.2,149.8 719.7,152.0" fill="#abe066"/>
<polygon points="754.6,156.9 763.0,155.4 756.9,152.0 748.5,153.8" fill="#abe066"/>
<polygon points="769.2,158.8 777.5,157.5 771.3,153.8 763.0,155.4" fill="#abe066"/>
<polygon points="798.5,164.1 806.7,163.3 800.3,159.0 792.1,160.1" fill="#abe066"/>
<polygon points="827.9,171.5 835.9,171.1 829.3,166.3 821.3,166.9" fill="#abe066"/>
<polygon points="842.6,175.9 850.5,175.7 843.8,170.7 835.9,171.1" fill="#abe066"/>
<polygon points="612.4,165.5 621.3,161.5 616.5,160.5 607.7,164.7" fill="#e3f48a"/>
<polygon points="626.2,162.4 635.1,158.7 630.1,157.5 621.3,161.5" fill="#abe066"/>
<polygon points="696.7,154.4 705.4,151.9 699.8,149.5 691.1,152.3" fill="#abe066"/>
<polygon points="740.0,155.6 748.5,153.8 742.5,150.6 734.1,152.6" fill="#abe066"/>
<polygon points="783.8,161.2 792.1,160.1 785.8,156.2 777.5,157.5" fill="#abe066"/>
<polygon points="857.3,180.9 865.1,180.9 858.4,175.5 850.5,175.7" fill="#e3f48a"/>
<polygon points="872.0,186.3 879.7,186.6 872.9,180.9 865.1,180.9" fill="#e3f48a"/>
<polygon points="645.2,161.1 654.1,157.8 648.9,156.4 640.1,159.9" fill="#abe066"/>
<polygon points="659.3,159.2 668.2,156.2 662.9,154.5 654.1,157.8" fill="#abe066"/>
<polygon points="716.8,156.7 725.5,154.7 719.7,152.0 711.1,154.3" fill="#abe066"/>
<polygon points="760.7,160.2 769.2,158.8 763.0,155.4 754.6,156.9" fill="#abe066"/>
<polygon points="819.8,171.9 827.9,171.5 821.3,166.9 813.2,167.6" fill="#abe066"/>
<polygon points="834.6,176.1 842.6,175.9 835.9,171.1 827.9,171.5" fill="#abe066"/>
<polygon points="673.6,157.9 682.4,155.1 677.0,153.2 668.2,156.2" fill="#abe066"/>
<polygon points="805.0,168.2 813.2,167.6 806.7,163.3 798.5,164.1" fill="#abe066"/>
<polygon points="617.2,166.2 626.2,162.4 621.3,161.5 612.4,165.5" fill="#e3f48a"/>
<polygon points="631.2,163.4 640.1,159.9 635.1,158.7 626.2,162.4" fill="#abe066"/>
<polygon points="687.9,157.0 696.7,154.4 691.1,152.3 682.4,155.1" fill="#abe066"/>
<polygon points="702.3,156.6 711.1,154.3 705.4,151.9 696.7,154.4" fill="#abe066"/>
<polygon points="731.4,157.4 740.0,155.6 734.1,152.6 725.5,154.7" fill="#abe066"/>
<polygon points="746.0,158.5 754.6,156.9 748.5,153.8 740.0,155.6" fill="#abe066"/>
<polygon points="775.4,162.3 783.8,161.2 777.5,157.5 769.2,158.8" fill="#abe066"/>
<polygon points="790.2,165.0 798.5,164.1 792.1,160.1 783.8,161.2" fill="#abe066"/>
<polygon points="849.4,180.8 857.3,180.9 850.5,175.7 842.6,175.9" fill="#e3f48a"/>
<polygon points="864.2,186.1 872.0,186.3 865.1,180.9 857.3,180.9" fill="#e3f48a"/>
<polygon points="650.4,162.3 659.3,159.2 654.1,157.8 645.2,161.1" fill="#abe066"/>
<polygon points="826.5,176.3 834.6,176.1 827.9,171.5 819.8,171.9" fill="#abe066"/>
<polygon points="622.1,167.0 631.2,163.4 626.2,162.4 617.2,166.2" fill="#abe066"/>
<polygon points="636.2,164.4 645.2,161.1 640.1,159.9 631.2,163.4" fill="#abe066"/>
<polygon points="664.7,160.7 673.6,157.9 668.2,156.2 659.3,159.2" fill="#abe066"/>
<polygon points="693.5,159.0 702.3,156.6 696.7,154.4 687.9,157.0" fill="#abe066"/>
<polygon points="708.1,158.8 716.8,156.7 711.1,154.3 702.3,156.6" fill="#abe066"/>
<polygon points="722.7,159.2 731.4,157.4 725.5,154.7 716.8,156.7" fill="#abe066"/>
<polygon points="737.4,160.1 746.0,158.5 740.0,155.6 731.4,157.4" fill="#abe066"/>
<polygon points="752.1,161.5 760.7,160.2 754.6,156.9 746.0,158.5" fill="#abe066"/>
<polygon points="766.9,163.5 775.4,162.3 769.2,158.8 760.7,160.2" fill="#abe066"/>
<polygon points="781.8,165.9 790.2,165.0 783.8,161.2 775.4,162.3" fill="#abe066"/>
<polygon points="811.5,172.3 819.8,171.9 813.2,167.6 805.0,168.2" fill="#abe066"/>
<polygon points="841.4,180.8 849.4,180.8 842.6,175.9 834.6,176.1" fill="#abe066"/>
<polygon points="856.3,185.8 864.2,186.1 857.3,180.9 849.4,180.8" fill="#e3f48a"/>
<polygon points="679.0,159.6 687.9,157.0 682.4,155.1 673.6,157.9" fill="#abe066"/>
<polygon points="796.7,168.8 805.0,168.2 798.5,164.1 790.2,165.0" fill="#abe066"/>
<polygon points="627.1,167.8 636.2,164.4 631.2,163.4 622.1,167.0" fill="#abe066"/>
<polygon points="641.3,165.4 650.4,162.3 645.2,161.1 636.2,164.4" fill="#abe066"/>
<polygon points="655.7,163.6 664.7,160.7 659.3,159.2 650.4,162.3" fill="#abe066"/>
<polygon points="699.2,161.0 708.1,158.8 702.3,156.6 693.5,159.0" fill="#abe066"/>
<polygon points="728.7,161.7 737.4,160.1 731.4,157.4 722.7,159.2" fill="#abe066"/>
<polygon points="743.5,162.9 752.1,161.5 746.0,158.5 737.4,160.1" fill="#abe066"/>
<polygon points="773.3,166.8 781.8,165.9 775.4,162.3 766.9,163.5" fill="#abe066"/>
<polygon points="818.2,176.5 826.5,176.3 819.8,171.9 811.5,172.3" fill="#abe066"/>
<polygon points="833.2,180.8 841.4,180.8 834.6,176.1 826.5,176.3" fill="#abe066"/>
<polygon points="848.3,185.6 856.3,185.8 849.4,180.8 841.4,180.8" fill="#e3f48a"/>
<polygon points="684.6,161.3 693.5,159.0 687.9,157.0 679.0,159.6" fill="#abe066"/>
<polygon points="788.2,169.5 796.7,168.8 790.2,165.0 781.8,165.9" fill="#abe066"/>
<polygon points="670.1,162.2 679.0,159.6 673.6,157.9 664.7,160.7" fill="#abe066"/>
<polygon points="713.9,161.1 722.7,159.2 716.8,156.7 708.1,158.8" fill="#abe066"/>
<polygon points="758.4,164.6 766.9,163.5 760.7,160.2 752.1,161.5" fill="#abe066"/>
<polygon points="803.2,172.7 811.5,172.3 805.0,168.2 796.7,168.8" fill="#abe066"/>
<polygon points="632.2,168.6 641.3,165.4 636.2,164.4 627.1,167.8" fill="#abe066"/>
<polygon points="734.7,164.3 743.5,162.9 737.4,160.1 728.7,161.7" fill="#abe066"/>
<polygon points="840.1,185.3 848.3,185.6 841.4,180.8 833.2,180.8" fill="#abe066"/>
<polygon points="690.2,163.1 699.2,161.0 693.5,159.0 684.6,161.3" fill="#abe066"/>
<polygon points="779.7,170.2 788.2,169.5 781.8,165.9 773.3,166.8" fill="#abe066"/>
<polygon points="646.6,166.5 655.7,163.6 650.4,162.3 641.3,165.4" fill="#abe066"/>
<polygon points="661.0,164.8 670.1,162.2 664.7,160.7 655.7,163.6" fill="#abe066"/>
<polygon points="675.6,163.7 684.6,161.3 679.0,159.6 670.1,162.2" fill="#abe066"/>
<polygon points="705.0,163.0 713.9,161.1 708.1,158.8 699.2,161.0" fill="#abe066"/>
<polygon points="719.8,163.4 728.7,161.7 722.7,159.2 713.9,161.1" fill="#abe066"/>
<polygon points="749.7,165.7 758.4,164.6 752.1,161.5 743.5,162.9" fill="#abe066"/>
<polygon points="764.7,167.7 773.3,166.8 766.9,163.5 758.4,164.6" fill="#abe066"/>
<polygon points="794.8,173.2 803.2,172.7 796.7,168.8 788.2,169.5" fill="#abe066"/>
<polygon points="809.9,176.7 818.2,176.5 811.5,172.3 803.2,172.7" fill="#abe066"/>
<polygon points="825.0,180.7 833.2,180.8 826.5,176.3 818.2,176.5" fill="#abe066"/>
<polygon points="637.4,169.4 646.6,166.5 641.3,165.4 632.2,168.6" fill="#abe066"/>
<polygon points="666.5,166.1 675.6,163.7 670.1,162.2 661.0,164.8" fill="#abe066"/>
<polygon points="681.2,165.3 690.2,163.1 684.6,161.3 675.6,163.7" fill="#abe066"/>
<polygon points="710.9,165.0 719.8,163.4 713.9,161.1 705.0,163.0" fill="#abe066"/>
<polygon points="725.8,165.7 734.7,164.3 728.7,161.7 719.8,163.4" fill="#abe066"/>
<polygon points="740.9,166.9 749.7,165.7 743.5,162.9 734.7,164.3" fill="#abe066"/>
<polygon points="755.9,168.6 764.7,167.7 758.4,164.6 749.7,165.7" fill="#abe066"/>
<polygon points="786.2,173.6 794.8,173.2 788.2,169.5 779.7,170.2" fill="#abe066"/>
<polygon points="801.4,176.9 809.9,176.7 803.2,172.7 794.8,173.2" fill="#abe066"/>
<polygon points="831.9,185.0 840.1,185.3 833.2,180.8 825.0,180.7" fill="#abe066"/>
<polygon points="651.9,167.5 661.0,164.8 655.7,163.6 646.6,166.5" fill="#abe066"/>
<polygon points="696.0,164.9 705.0,163.0 699.2,161.0 690.2,163.1" fill="#abe066"/>
<polygon points="771.1,170.8 779.7,170.2 773.3,166.8 764.7,167.7" fill="#abe066"/>
<polygon points="816.6,180.7 825.0,180.7 818.2,176.5 809.9,176.7" fill="#abe066"/>
<polygon points="672.0,167.4 681.2,165.3 675.6,163.7 666.5,166.1" fill="#abe066"/>
<polygon points="716.9,167.1 725.8,165.7 719.8,163.4 710.9,165.0" fill="#abe066"/>
<polygon points="747.1,169.5 755.9,168.6 749.7,165.7 740.9,166.9" fill="#abe066"/>
<polygon points="792.9,177.1 801.4,176.9 794.8,173.2 786.2,173.6" fill="#abe066"/>
<polygon points="642.6,170.2 651.9,167.5 646.6,166.5 637.4,169.4" fill="#abe066"/>
<polygon points="657.3,168.6 666.5,166.1 661.0,164.8 651.9,167.5" fill="#abe066"/>
<polygon points="686.9,166.8 696.0,164.9 690.2,163.1 681.2,165.3" fill="#abe066"/>
<polygon points="701.8,166.7 710.9,165.0 705.0,163.0 696.0,164.9" fill="#abe066"/>
<polygon points="731.9,168.1 740.9,166.9 734.7,164.3 725.8,165.7" fill="#abe066"/>
<polygon points="762.3,171.5 771.1,170.8 764.7,167.7 755.9,168.6" fill="#abe066"/>
<polygon points="777.6,174.0 786.2,173.6 779.7,170.2 771.1,170.8" fill="#abe066"/>
<polygon points="808.2,180.7 816.6,180.7 809.9,176.7 801.4,176.9" fill="#abe066"/>
<polygon points="823.5,184.8 831.9,185.0 825.0,180.7 816.6,180.7" fill="#abe066"/>
<polygon points="647.9,171.0 657.3,168.6 651.9,167.5 642.6,170.2" fill="#abe066"/>
<polygon points="662.8,169.7 672.0,167.4 666.5,166.1 657.3,168.6" fill="#abe066"/>
<polygon points="677.7,168.8 686.9,166.8 681.2,165.3 672.0,167.4" fill="#abe066"/>
<polygon points="692.7,168.4 701.8,166.7 696.0,164.9 686.9,166.8" fill="#abe066"/>
<polygon points="707.8,168.6 716.9,167.1 710.9,165.0 701.8,166.7" fill="#abe066"/>
<polygon points="722.9,169.3 731.9,168.1 725.8,165.7 716.9,167.1" fill="#abe066"/>
<polygon points="738.2,170.5 747.1,169.5 740.9,166.9 731.9,168.1" fill="#abe066"/>
<polygon points="753.5,172.2 762.3,171.5 755.9,168.6 747.1,169.5" fill="#abe066"/>
<polygon points="768.8,174.5 777.6,174.0 771.1,170.8 762.3,171.5" fill="#abe066"/>
<polygon points="784.2,177.3 792.9,177.1 786.2,173.6 777.6,174.0" fill="#abe066"/>
<polygon points="799.6,180.6 808.2,180.7 801.4,176.9 792.9,177.1" fill="#abe066"/>
<polygon points="815.0,184.5 823.5,184.8 816.6,180.7 808.2,180.7" fill="#abe066"/>
<polygon points="653.4,171.9 662.8,169.7 657.3,168.6 647.9,171.0" fill="#abe066"/>
<polygon points="683.4,170.1 692.7,168.4 686.9,166.8 677.7,168.8" fill="#abe066"/>
<polygon points="698.6,170.0 707.8,168.6 701.8,166.7 692.7,168.4" fill="#abe066"/>
<polygon points="713.8,170.5 722.9,169.3 716.9,167.1 707.8,168.6" fill="#abe066"/>
<polygon points="729.1,171.4 738.2,170.5 731.9,168.1 722.9,169.3" fill="#abe066"/>
<polygon points="744.5,172.9 753.5,172.2 747.1,169.5 738.2,170.5" fill="#abe066"/>
<polygon points="759.9,174.9 768.8,174.5 762.3,171.5 753.5,172.2" fill="#abe066"/>
<polygon points="775.4,177.5 784.2,177.3 777.6,174.0 768.8,174.5" fill="#abe066"/>
<polygon points="806.5,184.2 815.0,184.5 808.2,180.7 799.6,180.6" fill="#abe066"/>
<polygon points="668.3,170.8 677.7,168.8 672.0,167.4 662.8,169.7" fill="#abe066"/>
<polygon points="790.9,180.6 799.6,180.6 792.9,177.1 784.2,177.3" fill="#abe066"/>
<polygon points="689.2,171.5 698.6,170.0 692.7,168.4 683.4,170.1" fill="#abe066"/>
<polygon points="719.9,172.4 729.1,171.4 722.9,169.3 713.8,170.5" fill="#abe066"/>
<polygon points="735.4,173.6 744.5,172.9 738.2,170.5 729.1,171.4" fill="#abe066"/>
<polygon points="766.5,177.7 775.4,177.5 768.8,174.5 759.9,174.9" fill="#abe066"/>
<polygon points="658.9,172.8 668.3,170.8 662.8,169.7 653.4,171.9" fill="#abe066"/>
<polygon points="674.0,171.9 683.4,170.1 677.7,168.8 668.3,170.8" fill="#abe066"/>
<polygon points="704.6,171.7 713.8,170.5 707.8,168.6 698.6,170.0" fill="#abe066"/>
<polygon points="750.9,175.4 759.9,174.9 753.5,172.2 744.5,172.9" fill="#abe066"/>
<polygon points="782.1,180.6 790.9,180.6 784.2,177.3 775.4,177.5" fill="#abe066"/>
<polygon points="797.7,184.0 806.5,184.2 799.6,180.6 790.9,180.6" fill="#abe066"/>
<polygon points="664.5,173.6 674.0,171.9 668.3,170.8 658.9,172.8" fill="#abe066"/>
<polygon points="679.8,173.0 689.2,171.5 683.4,170.1 674.0,171.9" fill="#abe066"/>
<polygon points="695.2,172.9 704.6,171.7 698.6,170.0 689.2,171.5" fill="#abe066"/>
<polygon points="710.6,173.4 719.9,172.4 713.8,170.5 704.6,171.7" fill="#abe066"/>
<polygon points="726.2,174.3 735.4,173.6 729.1,171.4 719.9,172.4" fill="#abe066"/>
<polygon points="741.8,175.9 750.9,175.4 744.5,172.9 735.4,173.6" fill="#abe066"/>
<polygon points="757.4,177.9 766.5,177.7 759.9,174.9 750.9,175.4" fill="#abe066"/>
<polygon points="773.2,180.5 782.1,180.6 775.4,177.5 766.5,177.7" fill="#abe066"/>
<polygon points="788.9,183.7 797.7,184.0 790.9,180.6 782.1,180.6" fill="#abe066"/>
<polygon points="670.3,174.5 679.8,173.0 674.0,171.9 664.5,173.6" fill="#abe066"/>
<polygon points="701.2,174.4 710.6,173.4 704.6,171.7 695.2,172.9" fill="#68c066"/>
<polygon points="748.3,178.1 757.4,177.9 750.9,175.4 741.8,175.9" fill="#abe066"/>
<polygon points="779.9,183.4 788.9,183.7 782.1,180.6 773.2,180.5" fill="#abe066"/>
<polygon points="685.7,174.2 695.2,172.9 689.2,171.5 679.8,173.0" fill="#abe066"/>
<polygon points="716.9,175.1 726.2,174.3 719.9,172.4 710.6,173.4" fill="#68c066"/>
<polygon points="732.5,176.3 741.8,175.9 735.4,173.6 726.2,174.3" fill="#68c066"/>
<polygon points="764.1,180.5 773.2,180.5 766.5,177.7 757.4,177.9" fill="#abe066"/>
<polygon points="676.1,175.4 685.7,174.2 679.8,173.0 670.3,174.5" fill="#68c066"/>
<polygon points="691.7,175.4 701.2,174.4 695.2,172.9 685.7,174.2" fill="#68c066"/>
<polygon points="707.4,175.8 716.9,175.1 710.6,173.4 701.2,174.4" fill="#68c066"/>
<polygon points="723.2,176.8 732.5,176.3 726.2,174.3 716.9,175.1" fill="#68c066"/>
<polygon points="739.0,178.4 748.3,178.1 741.8,175.9 732.5,176.3" fill="#68c066"/>
<polygon points="754.9,180.5 764.1,180.5 757.4,177.9 748.3,178.1" fill="#68c066"/>
<polygon points="770.9,183.1 779.9,183.4 773.2,180.5 764.1,180.5" fill="#abe066"/>
<polygon points="682.0,176.4 691.7,175.4 685.7,174.2 676.1,175.4" fill="#68c066"/>
<polygon points="697.8,176.6 707.4,175.8 701.2,174.4 691.7,175.4" fill="#68c066"/>
<polygon points="713.7,177.3 723.2,176.8 716.9,175.1 707.4,175.8" fill="#68c066"/>
<polygon points="729.6,178.6 739.0,178.4 732.5,176.3 723.2,176.8" fill="#68c066"/>
<polygon points="745.6,180.4 754.9,180.5 748.3,178.1 739.0,178.4" fill="#68c066"/>
<polygon points="761.6,182.8 770.9,183.1 764.1,180.5 754.9,180.5" fill="#68c066"/>
<polygon points="688.1,177.3 697.8,176.6 691.7,175.4 682.0,176.4" fill="#68c066"/>
<polygon points="720.0,178.8 729.6,178.6 723.2,176.8 713.7,177.3" fill="#68c066"/>
<polygon points="752.3,182.5 761.6,182.8 754.9,180.5 745.6,180.4" fill="#68c066"/>
<polygon points="704.0,177.8 713.7,177.3 707.4,175.8 697.8,176.6" fill="#68c066"/>
<polygon points="736.1,180.4 745.6,180.4 739.0,178.4 729.6,178.6" fill="#68c066"/>
<polygon points="694.3,178.3 704.0,177.8 697.8,176.6 688.1,177.3" fill="#68c066"/>
<polygon points="710.4,179.0 720.0,178.8 713.7,177.3 704.0,177.8" fill="#68c066"/>
<polygon points="726.5,180.4 736.1,180.4 729.6,178.6 720.0,178.8" fill="#68c066"/>
<polygon points="742.8,182.2 752.3,182.5 745.6,180.4 736.1,180.4" fill="#68c066"/>
<polygon points="700.5,179.3 710.4,179.0 704.0,177.8 694.3,178.3" fill="#68c066"/>
<polygon points="716.8,180.3 726.5,180.4 720.0,178.8 710.4,179.0" fill="#68c066"/>
<polygon points="733.2,181.9 742.8,182.2 736.1,180.4 726.5,180.4" fill="#68c066"/>
<polygon points="706.9,180.3 716.8,180.3 710.4,179.0 700.5,179.3" fill="#68c066"/>
<polygon points="723.4,181.6 733.2,181.9 726.5,180.4 716.8,180.3" fill="#68c066"/>
<polygon points="713.5,181.3 723.4,181.6 716.8,180.3 706.9,180.3" fill="#68c066"/>
</g>
<polyline class="bl" points="713.5,181.3 715.2,180.9 716.8,180.3 718.4,179.6 720.0,178.8 721.6,177.9 723.2,176.8 724.7,175.6 726.2,174.3 727.7,172.9 729.1,171.4 730.5,169.8 731.9,168.1 733.3,166.2 734.7,164.3 736.1,162.3 737.4,160.1 738.7,157.9 740.0,155.6 741.3,153.1 742.5,150.6 743.8,148.0 745.0,145.3 746.2,142.5 747.4,139.6 748.6,136.7 749.8,133.6 750.9,130.5 752.1,127.3 753.2,124.0 754.4,120.6 755.5,117.2 756.6,113.6 757.7,110.0 758.7,106.3 759.8,102.6 760.8,98.7 761.9,94.8 762.9,90.8 764.0,86.7 765.0,82.6"/>
<polyline class="bl" points="603.0,164.0 609.7,162.2 616.5,160.5 623.3,159.0 630.1,157.5 637.0,156.2 643.8,155.0 650.8,153.9 657.7,152.9 664.6,152.0 671.6,151.3 678.6,150.7 685.7,150.2 692.7,149.8 699.8,149.5 706.9,149.4 714.0,149.4 721.1,149.5 728.2,149.8 735.4,150.1 742.5,150.6 749.7,151.2 756.9,152.0 764.1,152.8 771.3,153.8 778.6,154.9 785.8,156.2 793.0,157.6 800.3,159.0 807.5,160.7 814.8,162.4 822.0,164.3 829.3,166.3 836.6,168.4 843.8,170.7 851.1,173.0 858.4,175.5 865.6,178.2 872.9,180.9 880.1,183.8 887.4,186.8"/>
<line x1="599.1" y1="91.8" x2="713.1" y2="149.3" class="bx"/>
<line x1="713.1" y1="149.3" x2="892.0" y2="107.7" class="bx"/>
<line x1="715.3" y1="358.6" x2="713.1" y2="149.3" class="bx"/>
<line x1="609.0" y1="276.2" x2="715.3" y2="358.6" class="ax"/>
<line x1="715.3" y1="358.6" x2="880.9" y2="297.9" class="ax"/>
<line x1="715.3" y1="358.6" x2="724.3" y2="373.4" class="tk"/>
<text class="tl" transform="translate(729.4,393.7) scale(0.940,1)">−1.5</text>
<line x1="715.3" y1="358.6" x2="704.9" y2="372.0" class="tk"/>
<text class="tl" transform="translate(695.3,389.7) scale(0.940,1)">−1.5</text>
<line x1="745.6" y1="347.5" x2="752.9" y2="362.4" class="tk"/>
<text class="tl" transform="translate(759.4,382.1) scale(0.940,1)">−1.0</text>
<line x1="695.3" y1="343.1" x2="685.2" y2="356.2" class="tk"/>
<text class="tl" transform="translate(676.0,373.6) scale(0.940,1)">−1.0</text>
<line x1="774.7" y1="336.8" x2="781.8" y2="351.5" class="tk"/>
<text class="tl" transform="translate(788.3,370.8) scale(0.940,1)">−0.5</text>
<line x1="676.3" y1="328.3" x2="666.5" y2="341.3" class="tk"/>
<text class="tl" transform="translate(657.8,358.4) scale(0.940,1)">−0.5</text>
<line x1="802.7" y1="326.6" x2="809.6" y2="341.1" class="tk"/>
<text class="tl" transform="translate(816.1,360.0) scale(0.940,1)">0.0</text>
<line x1="658.2" y1="314.3" x2="648.8" y2="327.0" class="tk"/>
<text class="tl" transform="translate(640.5,343.8) scale(0.940,1)">0.0</text>
<line x1="829.7" y1="316.7" x2="836.4" y2="331.0" class="tk"/>
<text class="tl" transform="translate(842.8,349.6) scale(0.940,1)">0.5</text>
<line x1="641.0" y1="301.0" x2="631.9" y2="313.5" class="tk"/>
<text class="tl" transform="translate(624.0,330.0) scale(0.940,1)">0.5</text>
<line x1="855.8" y1="307.1" x2="862.3" y2="321.2" class="tk"/>
<text class="tl" transform="translate(868.6,339.5) scale(0.940,1)">1.0</text>
<line x1="624.6" y1="288.3" x2="615.9" y2="300.6" class="tk"/>
<text class="tl" transform="translate(608.4,316.7) scale(0.940,1)">1.0</text>
<line x1="880.9" y1="297.9" x2="887.2" y2="311.8" class="tk"/>
<text class="tl" transform="translate(893.5,329.7) scale(0.940,1)">1.5</text>
<line x1="609.0" y1="276.2" x2="600.6" y2="288.2" class="tk"/>
<text class="tl" transform="translate(593.5,304.1) scale(0.940,1)">1.5</text>
<line x1="607.5" y1="247.1" x2="592.8" y2="246.0" class="tk"/>
<text class="tl" transform="translate(576.9,248.5) scale(0.940,1)">50</text>
<line x1="604.2" y1="187.2" x2="589.5" y2="186.1" class="tk"/>
<text class="tl" transform="translate(573.6,188.6) scale(0.940,1)">100</text>
<line x1="600.9" y1="124.3" x2="586.2" y2="123.2" class="tk"/>
<text class="tl" transform="translate(570.3,125.7) scale(0.940,1)">150</text>
<text class="at" transform="translate(770.6,411.2) rotate(-18.7) scale(0.93,1)">Actors' Attitudes Towards Porn.</text>
<text class="at" transform="translate(567.2,325.6) rotate(40.0) scale(0.93,1)">Partners' Attitudes Towards Porn.</text>
<text class="at" textLength="79.2" lengthAdjust="spacingAndGlyphs" transform="translate(546.4,222.3) rotate(-90.0)">Sexual Satisfaction</text>
<rect x="426.4" y="5.40" width="13.2" height="47.30" fill="#006837"/>
<rect x="426.4" y="52.40" width="13.2" height="47.30" fill="#1a9850"/>
<rect x="426.4" y="99.40" width="13.2" height="47.30" fill="#a6d96a"/>
<rect x="426.4" y="146.40" width="13.2" height="47.30" fill="#d9ef8b"/>
<rect x="426.4" y="193.40" width="13.2" height="47.30" fill="#ffffbf"/>
<rect x="426.4" y="240.40" width="13.2" height="47.30" fill="#fee08b"/>
<rect x="426.4" y="287.40" width="13.2" height="47.30" fill="#fdae61"/>
<rect x="426.4" y="334.40" width="13.2" height="47.30" fill="#d73027"/>
<rect x="426.4" y="381.40" width="13.2" height="47.00" fill="#a50026"/>
<rect x="426.75" y="5.75" width="12.50" height="422.30" fill="none" stroke="rgba(0,0,0,0.28)" stroke-width="0.7"/>
<text class="cl" transform="translate(446.4,387.8) scale(0.940,1)">10</text>
<text class="cl" transform="translate(446.4,333.6) scale(0.940,1)">15</text>
<text class="cl" transform="translate(446.4,279.4) scale(0.940,1)">20</text>
<text class="cl" transform="translate(446.4,225.2) scale(0.940,1)">25</text>
<text class="cl" transform="translate(446.4,171.0) scale(0.940,1)">30</text>
<text class="cl" transform="translate(446.4,116.8) scale(0.940,1)">35</text>
<text class="cl" transform="translate(446.4,62.6) scale(0.940,1)">40</text>
<text class="cl" transform="translate(446.4,8.4) scale(0.940,1)">45</text>
<text class="kt" textLength="121.4" lengthAdjust="spacingAndGlyphs" transform="translate(418.0,278.4) rotate(-90)">Level of Relationship Satisfaction</text>
<rect x="963.8" y="1.80" width="13.2" height="46.50" fill="#006837"/>
<rect x="963.8" y="48.00" width="13.2" height="47.58" fill="#1a9850"/>
<rect x="963.8" y="95.28" width="13.2" height="47.58" fill="#a6d96a"/>
<rect x="963.8" y="142.56" width="13.2" height="47.58" fill="#d9ef8b"/>
<rect x="963.8" y="189.84" width="13.2" height="47.58" fill="#ffffbf"/>
<rect x="963.8" y="237.12" width="13.2" height="47.58" fill="#fee08b"/>
<rect x="963.8" y="284.40" width="13.2" height="47.58" fill="#fdae61"/>
<rect x="963.8" y="331.68" width="13.2" height="47.58" fill="#d73027"/>
<rect x="963.8" y="378.96" width="13.2" height="47.24" fill="#a50026"/>
<rect x="964.15" y="2.15" width="12.50" height="423.70" fill="none" stroke="rgba(0,0,0,0.28)" stroke-width="0.7"/>
<text class="cl" transform="translate(983.8,386.9) scale(0.940,1)">40</text>
<text class="cl" transform="translate(983.8,330.2) scale(0.940,1)">60</text>
<text class="cl" transform="translate(983.8,273.6) scale(0.940,1)">80</text>
<text class="cl" transform="translate(983.8,216.9) scale(0.940,1)">100</text>
<text class="cl" transform="translate(983.8,160.3) scale(0.940,1)">120</text>
<text class="cl" transform="translate(983.8,103.7) scale(0.940,1)">140</text>
<text class="cl" transform="translate(983.8,47.0) scale(0.940,1)">160</text>
<text class="kt" textLength="103.0" lengthAdjust="spacingAndGlyphs" transform="translate(956.8,268.1) rotate(-90)">Level of Sexual Satisfaction</text>
</svg>
</body></html>
